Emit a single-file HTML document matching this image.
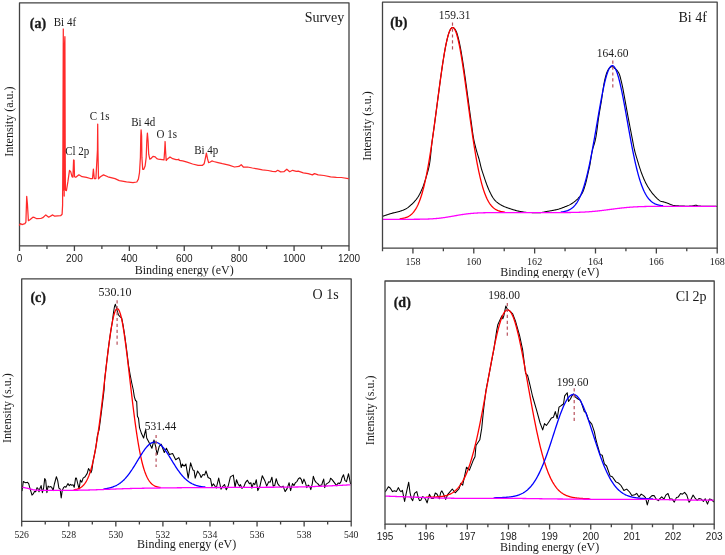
<!DOCTYPE html>
<html><head><meta charset="utf-8"><title>XPS spectra</title>
<style>html,body{margin:0;padding:0;background:#fff;}svg{display:block;will-change:transform;}</style></head>
<body><svg width="725" height="555" viewBox="0 0 725 555">
<rect width="725" height="555" fill="#fff"/>
<defs>
<clipPath id="cb"><rect x="382.5" y="2.2" width="334.70000000000005" height="245.9"/></clipPath>
<clipPath id="cc"><rect x="21.7" y="278.9" width="329.5" height="242.39999999999998"/></clipPath>
<clipPath id="cd"><rect x="385.0" y="281.0" width="329.20000000000005" height="243.10000000000002"/></clipPath>
</defs>
<rect x="19.5" y="2.8" width="329.5" height="243" fill="none" stroke="#424242" stroke-width="1.3" stroke-linejoin="round"/>
<path d="M19.5,245.8 V251.1 M74.42,245.8 V251.1 M129.33,245.8 V251.1 M184.25,245.8 V251.1 M239.17,245.8 V251.1 M294.08,245.8 V251.1 M349,245.8 V251.1 M46.96,245.8 V248.9 M101.88,245.8 V248.9 M156.79,245.8 V248.9 M211.71,245.8 V248.9 M266.62,245.8 V248.9 M321.54,245.8 V248.9 " stroke="#424242" stroke-width="1.3" fill="none"/>
<text x="19.5" y="261.8" font-family="Liberation Sans" font-size="10" font-weight="normal" text-anchor="middle" fill="#1a1a1a" >0</text>
<text x="74.42" y="261.8" font-family="Liberation Sans" font-size="10" font-weight="normal" text-anchor="middle" fill="#1a1a1a" >200</text>
<text x="129.33" y="261.8" font-family="Liberation Sans" font-size="10" font-weight="normal" text-anchor="middle" fill="#1a1a1a" >400</text>
<text x="184.25" y="261.8" font-family="Liberation Sans" font-size="10" font-weight="normal" text-anchor="middle" fill="#1a1a1a" >600</text>
<text x="239.17" y="261.8" font-family="Liberation Sans" font-size="10" font-weight="normal" text-anchor="middle" fill="#1a1a1a" >800</text>
<text x="294.08" y="261.8" font-family="Liberation Sans" font-size="10" font-weight="normal" text-anchor="middle" fill="#1a1a1a" >1000</text>
<text x="349" y="261.8" font-family="Liberation Sans" font-size="10" font-weight="normal" text-anchor="middle" fill="#1a1a1a" >1200</text>
<text x="184.2" y="274.2" font-family="Liberation Serif" font-size="12" font-weight="normal" text-anchor="middle" fill="#1a1a1a" >Binding energy (eV)</text>
<text transform="translate(13.2,121.6) rotate(-90)" x="0" y="0" font-family="Liberation Serif" font-size="12" text-anchor="middle" fill="#1a1a1a">Intensity (a.u.)</text>
<text x="29.8" y="27.5" font-family="Liberation Serif" font-size="14" font-weight="bold" text-anchor="start" fill="#1a1a1a" stroke="#1a1a1a" stroke-width="0.3">(a)</text>
<text x="344.3" y="21.9" font-family="Liberation Serif" font-size="14" font-weight="normal" text-anchor="end" fill="#1a1a1a" >Survey</text>
<path d="M19.5,225.1 L20.5,223.6 L21.9,224.6 L24.9,223.6 L25.9,222.2 L26.7,196.4 L27.4,203.8 L28.4,220.7 L29.9,219.7 L32.9,217.2 L34.8,217.7 L36.8,218.7 L40.8,218.5 L42.8,217.7 L45.8,214.9 L48.7,217.2 L52.7,214.9 L54.7,216.2 L60.6,215.7 L62.1,214.2 L62.6,205 L62.9,150 L63.3,29 L63.6,190 L63.9,80 L64.2,196 L64.5,45 L64.9,36.7 L65.2,150 L65.4,189.6 L65.8,190.5 L66.4,190.6 L67.9,181.7 L69.5,170.4 L70.7,171.6 L72,176.7 L72.9,177.2 L73.6,160 L74.1,160.3 L74.5,176.7 L75.8,177.3 L78.9,174.8 L82.1,176.7 L86.5,177.3 L90.3,178.5 L92.5,178.5 L93.4,169.1 L94.3,178.5 L95.9,178.5 L97.45,150 L97.7,124.1 L97.95,150 L98.5,178.8 L100.4,176.8 L103.5,174.9 L107.9,176.8 L113,178.1 L115,178.6 L119.3,180.6 L120.8,180.8 L126.5,181.8 L133,182.6 L136.8,182 L138.4,179.1 L139.5,172.6 L140.4,157.4 L140.8,135.8 L141.1,129.9 L141.6,135.8 L141.9,157.4 L142.7,169.3 L143.8,169.3 L145.1,166.1 L146.2,157.4 L146.8,141.2 L147.4,133.1 L148.1,141.2 L148.7,154.2 L149.8,159.1 L150.8,158.7 L153,156.4 L155.2,156.9 L156.8,158.7 L158.3,159.1 L164,159.8 L164.7,150 L165.1,141.5 L165.5,150 L166.2,160.5 L167.2,159.2 L170,157 L172.7,158.7 L176,159.6 L178.2,159.6 L178.8,159.2 L179.3,160.4 L182.7,160.9 L187.1,162.2 L192.6,164 L198.1,165.3 L202.5,165.3 L204.2,163.7 L205.3,158.7 L206.4,153.2 L207.5,158.7 L208.6,162.6 L210.3,162 L211.9,160.9 L213.6,161.5 L218,162.6 L222.4,163.7 L229,165.1 L234.5,167 L239,166.4 L241.2,164.7 L243.3,167 L247.5,167 L252.4,168 L257.4,168.9 L262.4,169.9 L268.1,170.5 L272.3,171.4 L275.6,171.7 L277.7,170.3 L280.6,171.9 L283.9,171.7 L286.8,169.2 L289.7,171.7 L292.6,170.3 L296.3,171.4 L298.3,171.1 L303.3,172.8 L308.2,173.6 L312.4,174.9 L314.5,173.6 L318.2,174.9 L324,175.5 L330.6,176.9 L336.4,177.4 L341.4,177.5 L348.3,178.6" fill="none" stroke="#ff2a2a" stroke-width="1.25" stroke-linejoin="round" stroke-linecap="round" />
<text transform="translate(53.8,26) scale(1,1.12)" x="0" y="0" font-family="Liberation Serif" font-size="11" font-weight="normal" text-anchor="start" fill="#1a1a1a" >Bi 4f</text>
<text transform="translate(89.7,120.3) scale(1,1.12)" x="0" y="0" font-family="Liberation Serif" font-size="11" font-weight="normal" text-anchor="start" fill="#1a1a1a" >C 1s</text>
<text transform="translate(65.2,154.9) scale(1,1.12)" x="0" y="0" font-family="Liberation Serif" font-size="11" font-weight="normal" text-anchor="start" fill="#1a1a1a" >Cl 2p</text>
<text transform="translate(131.2,126.1) scale(1,1.12)" x="0" y="0" font-family="Liberation Serif" font-size="11" font-weight="normal" text-anchor="start" fill="#1a1a1a" >Bi 4d</text>
<text transform="translate(156.5,137.7) scale(1,1.12)" x="0" y="0" font-family="Liberation Serif" font-size="11" font-weight="normal" text-anchor="start" fill="#1a1a1a" >O 1s</text>
<text transform="translate(194.2,153.7) scale(1,1.12)" x="0" y="0" font-family="Liberation Serif" font-size="11" font-weight="normal" text-anchor="start" fill="#1a1a1a" >Bi 4p</text>
<g clip-path="url(#cb)">
<path d="M383,216.2 L383.5,216.02 L384,215.84 L384.5,215.66 L385,215.49 L385.5,215.31 L386,215.14 L386.5,214.98 L387,214.81 L387.5,214.64 L388,214.48 L388.5,214.32 L389,214.17 L389.5,214.01 L390,213.86 L390.5,213.71 L391,213.56 L391.5,213.41 L392,213.27 L392.5,213.13 L393,213 L393.5,212.88 L394,212.76 L394.5,212.64 L395,212.52 L395.5,212.41 L396,212.29 L396.5,212.18 L397,212.06 L397.5,211.94 L398,211.81 L398.5,211.68 L399,211.54 L399.5,211.39 L400,211.24 L400.5,211.08 L401,210.91 L401.5,210.74 L402,210.56 L402.5,210.38 L403,210.18 L403.5,209.98 L404,209.77 L404.5,209.54 L405,209.31 L405.5,209.06 L406,208.79 L406.5,208.5 L407,208.18 L407.5,207.84 L408,207.48 L408.5,207.09 L409,206.69 L409.5,206.27 L410,205.84 L410.5,205.4 L411,204.95 L411.5,204.49 L412,204.02 L412.5,203.54 L413,203.05 L413.5,202.54 L414,202.02 L414.5,201.48 L415,200.91 L415.5,200.32 L416,199.71 L416.5,199.07 L417,198.39 L417.5,197.69 L418,196.95 L418.5,196.15 L419,195.3 L419.5,194.4 L420,193.44 L420.5,192.44 L421,191.39 L421.5,190.3 L422,189.16 L422.5,187.98 L423,186.75 L423.5,185.43 L424,184.02 L424.5,182.52 L425,180.96 L425.5,179.33 L426,177.66 L426.5,175.95 L427,174.24 L427.5,172.55 L428,170.8 L428.5,168.89 L429,166.74 L429.5,164.25 L430,161 L430.5,156.61 L431,151.61 L431.5,146.58 L432,142.09 L432.5,138.53 L433,135.02 L433.5,131.44 L434,127.81 L434.5,124.13 L435,120.41 L435.5,116.66 L436,112.88 L436.5,109.08 L437,105.27 L437.5,101.45 L438,97.64 L438.5,93.84 L439,90.06 L439.5,86.3 L440,82.59 L440.5,78.93 L441,75.32 L441.5,71.78 L442,68.32 L442.5,64.94 L443,61.65 L443.5,58.47 L444,55.4 L444.5,52.45 L445,49.63 L445.5,46.95 L446,44.42 L446.5,42.04 L447,39.82 L447.5,37.76 L448,35.88 L448.5,34.18 L449,32.66 L449.5,31.34 L450,30.2 L450.5,29.26 L451,28.52 L451.5,27.99 L452,27.65 L452.5,27.54 L453,27.59 L453.5,27.78 L454,28.12 L454.5,28.59 L455,29.21 L455.5,29.97 L456,30.88 L456.5,32.03 L457,33.44 L457.5,35.04 L458,36.82 L458.5,38.78 L459,40.9 L459.5,43.18 L460,45.61 L460.5,48.19 L461,50.91 L461.5,53.75 L462,56.72 L462.5,59.79 L463,62.97 L463.5,66.25 L464,69.6 L464.5,73.04 L465,76.54 L465.5,80.09 L466,83.7 L466.5,87.34 L467,91.01 L467.5,94.71 L468,98.41 L468.5,102.12 L469,105.83 L469.5,109.52 L470,113.2 L470.5,116.84 L471,120.46 L471.5,124.11 L472,127.88 L472.5,131.58 L473,135.02 L473.5,138 L474,140.54 L474.5,142.85 L475,144.97 L475.5,146.96 L476,148.87 L476.5,150.74 L477,152.47 L477.5,154.09 L478,155.67 L478.5,157.28 L479,158.98 L479.5,160.85 L480,162.91 L480.5,165.05 L481,167.12 L481.5,169 L482,170.66 L482.5,172.2 L483,173.67 L483.5,175.12 L484,176.59 L484.5,178.09 L485,179.59 L485.5,181.07 L486,182.52 L486.5,183.92 L487,185.24 L487.5,186.51 L488,187.74 L488.5,188.94 L489,190.11 L489.5,191.23 L490,192.31 L490.5,193.34 L491,194.31 L491.5,195.24 L492,196.14 L492.5,196.99 L493,197.8 L493.5,198.54 L494,199.2 L494.5,199.8 L495,200.36 L495.5,200.87 L496,201.36 L496.5,201.8 L497,202.22 L497.5,202.61 L498,202.99 L498.5,203.35 L499,203.7 L499.5,204.03 L500,204.35 L500.5,204.66 L501,204.95 L501.5,205.23 L502,205.5 L502.5,205.76 L503,206 L503.5,206.23 L504,206.46 L504.5,206.67 L505,206.88 L505.5,207.09 L506,207.28 L506.5,207.47 L507,207.66 L507.5,207.84 L508,208.01 L508.5,208.18 L509,208.35 L509.5,208.52 L510,208.68 L510.5,208.84 L511,209 L511.5,209.16 L512,209.32 L512.5,209.48 L513,209.64 L513.5,209.79 L514,209.95 L514.5,210.1 L515,210.24 L515.5,210.38 L516,210.52 L516.5,210.66 L517,210.78 L517.5,210.9 L518,211.02 L518.5,211.12 L519,211.22 L519.5,211.31 L520,211.41 L520.5,211.51 L521,211.6 L521.5,211.69 L522,211.78 L522.5,211.87 L523,211.96 L523.5,212.04 L524,212.11 L524.5,212.18 L525,212.25 L525.5,212.31 L526,212.36 L526.5,212.41 L527,212.45 L527.5,212.48 L528,212.5 L528.5,212.52 L529,212.53 L529.5,212.55 L530,212.56 L530.5,212.58 L531,212.59 L531.5,212.6 L532,212.61 L532.5,212.62 L533,212.64 L533.5,212.65 L534,212.65 L534.5,212.66 L535,212.67 L535.5,212.68 L536,212.68 L536.5,212.69 L537,212.69 L537.5,212.7 L538,212.7 L538.5,212.7 L539,212.7 L539.5,212.69 L540,212.67 L540.5,212.62 L541,212.57 L541.5,212.5 L542,212.43 L542.5,212.34 L543,212.25 L543.5,212.15 L544,212.05 L544.5,211.94 L545,211.84 L545.5,211.73 L546,211.63 L546.5,211.53 L547,211.44 L547.5,211.35 L548,211.26 L548.5,211.17 L549,211.09 L549.5,211 L550,210.91 L550.5,210.83 L551,210.74 L551.5,210.65 L552,210.56 L552.5,210.47 L553,210.37 L553.5,210.28 L554,210.18 L554.5,210.08 L555,209.97 L555.5,209.87 L556,209.76 L556.5,209.64 L557,209.52 L557.5,209.4 L558,209.28 L558.5,209.15 L559,209.01 L559.5,208.85 L560,208.69 L560.5,208.52 L561,208.35 L561.5,208.16 L562,207.97 L562.5,207.78 L563,207.59 L563.5,207.39 L564,207.19 L564.5,207 L565,206.8 L565.5,206.61 L566,206.41 L566.5,206.22 L567,206.02 L567.5,205.82 L568,205.6 L568.5,205.38 L569,205.15 L569.5,204.9 L570,204.64 L570.5,204.36 L571,204.07 L571.5,203.76 L572,203.44 L572.5,203.11 L573,202.77 L573.5,202.42 L574,202.05 L574.5,201.67 L575,201.28 L575.5,200.87 L576,200.43 L576.5,199.98 L577,199.51 L577.5,199.02 L578,198.5 L578.5,197.97 L579,197.42 L579.5,196.86 L580,196.26 L580.5,195.63 L581,194.94 L581.5,194.2 L582,193.39 L582.5,192.5 L583,191.46 L583.5,190.23 L584,188.84 L584.5,187.31 L585,185.69 L585.5,184 L586,182.15 L586.5,180.07 L587,177.85 L587.5,175.57 L588,173.31 L588.5,171.16 L589,169.12 L589.5,166.96 L590,164.38 L590.5,161.27 L591,157.93 L591.5,154.72 L592,152 L592.5,149.83 L593,147.97 L593.5,146.31 L594,144.72 L594.5,143.08 L595,141.29 L595.5,139.22 L596,136.73 L596.5,133.53 L597,129.81 L597.5,125.84 L598,121.9 L598.5,118.27 L599,115.06 L599.5,112.03 L600,109.12 L600.5,106.24 L601,103.32 L601.5,100.3 L602,97.02 L602.5,93.52 L603,89.99 L603.5,86.63 L604,83.62 L604.5,81.15 L605,78.98 L605.5,76.96 L606,75.13 L606.5,73.53 L607,72.17 L607.5,71.09 L608,70.13 L608.5,69.26 L609,68.52 L609.5,67.92 L610,67.5 L610.5,67.18 L611,66.89 L611.5,66.66 L612,66.52 L612.5,66.52 L613,66.71 L613.5,67.07 L614,67.52 L614.5,68.02 L615,68.5 L615.5,68.95 L616,69.41 L616.5,69.9 L617,70.43 L617.5,71.03 L618,71.71 L618.5,72.48 L619,73.4 L619.5,74.66 L620,76.26 L620.5,78.1 L621,80.1 L621.5,82.17 L622,84.29 L622.5,86.63 L623,89.17 L623.5,91.85 L624,94.62 L624.5,97.41 L625,100.18 L625.5,102.87 L626,105.59 L626.5,108.33 L627,111.08 L627.5,113.82 L628,116.53 L628.5,119.19 L629,121.82 L629.5,124.43 L630,127.02 L630.5,129.6 L631,132.16 L631.5,134.73 L632,137.29 L632.5,139.89 L633,142.58 L633.5,145.23 L634,147.74 L634.5,150 L635,152.01 L635.5,153.88 L636,155.63 L636.5,157.31 L637,158.96 L637.5,160.6 L638,162.26 L638.5,163.9 L639,165.53 L639.5,167.13 L640,168.69 L640.5,170.19 L641,171.63 L641.5,173 L642,174.31 L642.5,175.58 L643,176.82 L643.5,178.03 L644,179.19 L644.5,180.31 L645,181.39 L645.5,182.43 L646,183.42 L646.5,184.36 L647,185.27 L647.5,186.14 L648,186.99 L648.5,187.8 L649,188.59 L649.5,189.35 L650,190.09 L650.5,190.81 L651,191.5 L651.5,192.17 L652,192.82 L652.5,193.44 L653,194.04 L653.5,194.63 L654,195.2 L654.5,195.75 L655,196.3 L655.5,196.84 L656,197.36 L656.5,197.87 L657,198.36 L657.5,198.82 L658,199.27 L658.5,199.73 L659,200.17 L659.5,200.58 L660,200.91 L660.5,201.14 L661,201.3 L661.5,201.44 L662,201.55 L662.5,201.66 L663,201.76 L663.5,201.87 L664,202 L664.5,202.15 L665,202.3 L665.5,202.46 L666,202.63 L666.5,202.8 L667,202.98 L667.5,203.16 L668,203.36 L668.5,203.58 L669,203.81 L669.5,204.05 L670,204.27 L670.5,204.48 L671,204.67 L671.5,204.83 L672,204.98 L672.5,205.13 L673,205.27 L673.5,205.39 L674,205.5 L674.5,205.58 L675,205.63 L675.5,205.68 L676,205.72 L676.5,205.76 L677,205.8 L677.5,205.83 L678,205.86 L678.5,205.89 L679,205.91 L679.5,205.94 L680,205.96 L680.5,205.98 L681,206 L681.5,206.02 L682,206.04 L682.5,206.06 L683,206.08 L683.5,206.1 L684,206.12 L684.5,206.13 L685,206.15 L685.5,206.16 L686,206.18 L686.5,206.19 L687,206.19 L687.5,206.2 L688,206.2 L688.5,206.19 L689,206.17 L689.5,206.14 L690,206.1 L690.5,206.05 L691,206 L691.5,205.95 L692,205.9 L692.5,205.83 L693,205.74 L693.5,205.64 L694,205.53 L694.5,205.43 L695,205.36 L695.5,205.31 L696,205.31 L696.5,205.38 L697,205.5 L697.5,205.65 L698,205.8 L698.5,205.92 L699,206 L699.5,206.04 L700,206.08 L700.5,206.12 L701,206.16 L701.5,206.19 L702,206.22 L702.5,206.24 L703,206.26 L703.5,206.28 L704,206.29 L704.5,206.3 L705,206.3 L705.5,206.3 L706,206.3 L706.5,206.3 L707,206.3 L707.5,206.3 L708,206.3 L708.5,206.3 L709,206.3 L709.5,206.29 L710,206.29 L710.5,206.29 L711,206.29 L711.5,206.28 L712,206.28 L712.5,206.27 L713,206.27 L713.5,206.26 L714,206.25 L714.5,206.25 L715,206.24 L715.5,206.23 L716,206.21 L716.5,206.2" fill="none" stroke="#000000" stroke-width="1.05" stroke-linejoin="round" stroke-linecap="round" />
<path d="M400.1,218.79 L400.6,218.73 L401.1,218.67 L401.6,218.59 L402.1,218.51 L402.6,218.42 L403.1,218.32 L403.6,218.21 L404.1,218.09 L404.6,217.96 L405.1,217.81 L405.6,217.65 L406.1,217.48 L406.6,217.28 L407.1,217.07 L407.6,216.85 L408.1,216.6 L408.6,216.33 L409.1,216.03 L409.6,215.71 L410.1,215.37 L410.6,214.99 L411.1,214.58 L411.6,214.14 L412.1,213.67 L412.6,213.16 L413.1,212.61 L413.6,212.02 L414.1,211.38 L414.6,210.7 L415.1,209.97 L415.6,209.19 L416.1,208.36 L416.6,207.47 L417.1,206.52 L417.6,205.51 L418.1,204.44 L418.6,203.3 L419.1,202.1 L419.6,200.82 L420.1,199.47 L420.6,198.04 L421.1,196.53 L421.6,194.95 L422.1,193.28 L422.6,191.53 L423.1,189.69 L423.6,187.76 L424.1,185.75 L424.6,183.64 L425.1,181.45 L425.6,179.16 L426.1,176.78 L426.6,174.31 L427.1,171.74 L427.6,169.09 L428.1,166.34 L428.6,163.51 L429.1,160.58 L429.6,157.57 L430.1,154.47 L430.6,151.3 L431.1,148.04 L431.6,144.71 L432.1,141.31 L432.6,137.84 L433.1,134.31 L433.6,130.72 L434.1,127.08 L434.6,123.39 L435.1,119.67 L435.6,115.91 L436.1,112.12 L436.6,108.32 L437.1,104.5 L437.6,100.69 L438.1,96.88 L438.6,93.08 L439.1,89.3 L439.6,85.56 L440.1,81.86 L440.6,78.2 L441.1,74.61 L441.6,71.08 L442.1,67.63 L442.6,64.27 L443.1,61.01 L443.6,57.85 L444.1,54.8 L444.6,51.88 L445.1,49.09 L445.6,46.44 L446.1,43.93 L446.6,41.58 L447.1,39.39 L447.6,37.37 L448.1,35.53 L448.6,33.86 L449.1,32.38 L449.6,31.09 L450.1,30 L450.6,29.1 L451.1,28.4 L451.6,27.91 L452.1,27.61 L452.6,27.52 L453.1,27.64 L453.6,27.96 L454.1,28.48 L454.6,29.2 L455.1,30.13 L455.6,31.24 L456.1,32.55 L456.6,34.04 L457.1,35.72 L457.6,37.57 L458.1,39.59 L458.6,41.78 L459.1,44.12 L459.6,46.61 L460.1,49.25 L460.6,52.02 L461.1,54.91 L461.6,57.93 L462.1,61.04 L462.6,64.26 L463.1,67.57 L463.6,70.96 L464.1,74.43 L464.6,77.95 L465.1,81.53 L465.6,85.15 L466.1,88.81 L466.6,92.49 L467.1,96.19 L467.6,99.9 L468.1,103.61 L468.6,107.31 L469.1,111 L469.6,114.66 L470.1,118.3 L470.6,121.9 L471.1,125.45 L471.6,128.96 L472.1,132.42 L472.6,135.81 L473.1,139.14 L473.6,142.41 L474.1,145.6 L474.6,148.71 L475.1,151.75 L475.6,154.71 L476.1,157.58 L476.6,160.37 L477.1,163.07 L477.6,165.68 L478.1,168.2 L478.6,170.63 L479.1,172.97 L479.6,175.22 L480.1,177.38 L480.6,179.46 L481.1,181.44 L481.6,183.34 L482.1,185.15 L482.6,186.88 L483.1,188.52 L483.6,190.09 L484.1,191.57 L484.6,192.98 L485.1,194.32 L485.6,195.58 L486.1,196.77 L486.6,197.9 L487.1,198.96 L487.6,199.95 L488.1,200.89 L488.6,201.77 L489.1,202.59 L489.6,203.36 L490.1,204.09 L490.6,204.76 L491.1,205.39 L491.6,205.97 L492.1,206.52 L492.6,207.02 L493.1,207.49 L493.6,207.93 L494.1,208.33 L494.6,208.7 L495.1,209.04 L495.6,209.36 L496.1,209.65 L496.6,209.92 L497.1,210.17 L497.6,210.39 L498.1,210.6 L498.6,210.79 L499.1,210.96 L499.6,211.12 L500.1,211.27 L500.6,211.4 L501.1,211.52 L501.6,211.63 L502.1,211.73 L502.6,211.82 L503.1,211.9 L503.6,211.97 L504.1,212.04 L504.6,212.1" fill="none" stroke="#ff0000" stroke-width="1.3" stroke-linejoin="round" stroke-linecap="round" />
<path d="M561.1,212.06 L561.6,212 L562.1,211.94 L562.6,211.86 L563.1,211.78 L563.6,211.69 L564.1,211.59 L564.6,211.48 L565.1,211.36 L565.6,211.23 L566.1,211.09 L566.6,210.93 L567.1,210.76 L567.6,210.58 L568.1,210.37 L568.6,210.15 L569.1,209.92 L569.6,209.66 L570.1,209.38 L570.6,209.07 L571.1,208.75 L571.6,208.39 L572.1,208.01 L572.6,207.6 L573.1,207.16 L573.6,206.69 L574.1,206.18 L574.6,205.63 L575.1,205.05 L575.6,204.43 L576.1,203.76 L576.6,203.05 L577.1,202.29 L577.6,201.49 L578.1,200.64 L578.6,199.73 L579.1,198.77 L579.6,197.76 L580.1,196.69 L580.6,195.56 L581.1,194.36 L581.6,193.11 L582.1,191.79 L582.6,190.41 L583.1,188.96 L583.6,187.44 L584.1,185.86 L584.6,184.2 L585.1,182.47 L585.6,180.68 L586.1,178.81 L586.6,176.87 L587.1,174.87 L587.6,172.79 L588.1,170.64 L588.6,168.43 L589.1,166.14 L589.6,163.8 L590.1,161.39 L590.6,158.91 L591.1,156.38 L591.6,153.8 L592.1,151.16 L592.6,148.47 L593.1,145.74 L593.6,142.96 L594.1,140.15 L594.6,137.31 L595.1,134.44 L595.6,131.54 L596.1,128.63 L596.6,125.71 L597.1,122.79 L597.6,119.87 L598.1,116.95 L598.6,114.05 L599.1,111.18 L599.6,108.33 L600.1,105.51 L600.6,102.74 L601.1,100.02 L601.6,97.36 L602.1,94.75 L602.6,92.22 L603.1,89.77 L603.6,87.41 L604.1,85.13 L604.6,82.96 L605.1,80.88 L605.6,78.92 L606.1,77.08 L606.6,75.36 L607.1,73.76 L607.6,72.3 L608.1,70.97 L608.6,69.79 L609.1,68.75 L609.6,67.85 L610.1,67.11 L610.6,66.52 L611.1,66.08 L611.6,65.8 L612.1,65.67 L612.6,65.71 L613.1,65.89 L613.6,66.24 L614.1,66.73 L614.6,67.38 L615.1,68.18 L615.6,69.13 L616.1,70.22 L616.6,71.45 L617.1,72.82 L617.6,74.32 L618.1,75.94 L618.6,77.69 L619.1,79.56 L619.6,81.53 L620.1,83.61 L620.6,85.79 L621.1,88.06 L621.6,90.41 L622.1,92.84 L622.6,95.35 L623.1,97.91 L623.6,100.54 L624.1,103.21 L624.6,105.93 L625.1,108.68 L625.6,111.46 L626.1,114.26 L626.6,117.08 L627.1,119.91 L627.6,122.73 L628.1,125.56 L628.6,128.37 L629.1,131.17 L629.6,133.95 L630.1,136.7 L630.6,139.42 L631.1,142.1 L631.6,144.75 L632.1,147.35 L632.6,149.9 L633.1,152.4 L633.6,154.85 L634.1,157.23 L634.6,159.56 L635.1,161.83 L635.6,164.03 L636.1,166.17 L636.6,168.24 L637.1,170.25 L637.6,172.19 L638.1,174.05 L638.6,175.85 L639.1,177.58 L639.6,179.24 L640.1,180.84 L640.6,182.36 L641.1,183.82 L641.6,185.22 L642.1,186.54 L642.6,187.81 L643.1,189.01 L643.6,190.15 L644.1,191.24 L644.6,192.26 L645.1,193.24 L645.6,194.15 L646.1,195.02 L646.6,195.83 L647.1,196.6 L647.6,197.32 L648.1,198 L648.6,198.63 L649.1,199.22 L649.6,199.78 L650.1,200.29 L650.6,200.78 L651.1,201.23 L651.6,201.64 L652.1,202.03 L652.6,202.39 L653.1,202.73 L653.6,203.04 L654.1,203.32 L654.6,203.59 L655.1,203.83 L655.6,204.05 L656.1,204.26 L656.6,204.45 L657.1,204.62 L657.6,204.78 L658.1,204.92 L658.6,205.06 L659.1,205.18 L659.6,205.29 L660.1,205.39 L660.6,205.48 L661.1,205.56 L661.6,205.64 L662.1,205.71 L662.6,205.77" fill="none" stroke="#0000ff" stroke-width="1.3" stroke-linejoin="round" stroke-linecap="round" />
<path d="M383.1,219.3 L383.6,219.3 L384.1,219.3 L384.6,219.3 L385.1,219.3 L385.6,219.3 L386.1,219.3 L386.6,219.3 L387.1,219.3 L387.6,219.3 L388.1,219.3 L388.6,219.3 L389.1,219.3 L389.6,219.3 L390.1,219.3 L390.6,219.3 L391.1,219.3 L391.6,219.3 L392.1,219.3 L392.6,219.3 L393.1,219.3 L393.6,219.3 L394.1,219.3 L394.6,219.3 L395.1,219.3 L395.6,219.3 L396.1,219.3 L396.6,219.3 L397.1,219.3 L397.6,219.3 L398.1,219.3 L398.6,219.3 L399.1,219.3 L399.6,219.3 L400.1,219.3 L400.6,219.3 L401.1,219.3 L401.6,219.3 L402.1,219.3 L402.6,219.3 L403.1,219.3 L403.6,219.3 L404.1,219.3 L404.6,219.3 L405.1,219.3 L405.6,219.3 L406.1,219.3 L406.6,219.29 L407.1,219.29 L407.6,219.29 L408.1,219.29 L408.6,219.29 L409.1,219.29 L409.6,219.29 L410.1,219.29 L410.6,219.29 L411.1,219.29 L411.6,219.28 L412.1,219.28 L412.6,219.28 L413.1,219.28 L413.6,219.28 L414.1,219.27 L414.6,219.27 L415.1,219.27 L415.6,219.26 L416.1,219.26 L416.6,219.26 L417.1,219.25 L417.6,219.25 L418.1,219.24 L418.6,219.24 L419.1,219.23 L419.6,219.23 L420.1,219.22 L420.6,219.21 L421.1,219.21 L421.6,219.2 L422.1,219.19 L422.6,219.18 L423.1,219.17 L423.6,219.16 L424.1,219.15 L424.6,219.13 L425.1,219.12 L425.6,219.1 L426.1,219.09 L426.6,219.07 L427.1,219.06 L427.6,219.04 L428.1,219.02 L428.6,219 L429.1,218.98 L429.6,218.95 L430.1,218.93 L430.6,218.9 L431.1,218.88 L431.6,218.85 L432.1,218.82 L432.6,218.79 L433.1,218.75 L433.6,218.72 L434.1,218.68 L434.6,218.64 L435.1,218.6 L435.6,218.56 L436.1,218.52 L436.6,218.48 L437.1,218.43 L437.6,218.38 L438.1,218.33 L438.6,218.28 L439.1,218.23 L439.6,218.17 L440.1,218.11 L440.6,218.05 L441.1,217.99 L441.6,217.93 L442.1,217.87 L442.6,217.8 L443.1,217.73 L443.6,217.66 L444.1,217.59 L444.6,217.52 L445.1,217.45 L445.6,217.37 L446.1,217.3 L446.6,217.22 L447.1,217.14 L447.6,217.06 L448.1,216.97 L448.6,216.89 L449.1,216.81 L449.6,216.72 L450.1,216.64 L450.6,216.55 L451.1,216.46 L451.6,216.38 L452.1,216.29 L452.6,216.2 L453.1,216.11 L453.6,216.02 L454.1,215.93 L454.6,215.84 L455.1,215.75 L455.6,215.67 L456.1,215.58 L456.6,215.49 L457.1,215.4 L457.6,215.31 L458.1,215.23 L458.6,215.14 L459.1,215.06 L459.6,214.97 L460.1,214.89 L460.6,214.81 L461.1,214.73 L461.6,214.65 L462.1,214.57 L462.6,214.5 L463.1,214.42 L463.6,214.35 L464.1,214.28 L464.6,214.21 L465.1,214.14 L465.6,214.07 L466.1,214.01 L466.6,213.94 L467.1,213.88 L467.6,213.82 L468.1,213.76 L468.6,213.71 L469.1,213.65 L469.6,213.6 L470.1,213.55 L470.6,213.5 L471.1,213.45 L471.6,213.41 L472.1,213.36 L472.6,213.32 L473.1,213.28 L473.6,213.24 L474.1,213.2 L474.6,213.17 L475.1,213.13 L475.6,213.1 L476.1,213.07 L476.6,213.04 L477.1,213.01 L477.6,212.99 L478.1,212.96 L478.6,212.94 L479.1,212.92 L479.6,212.89 L480.1,212.87 L480.6,212.86 L481.1,212.84 L481.6,212.82 L482.1,212.8 L482.6,212.79 L483.1,212.78 L483.6,212.76 L484.1,212.75 L484.6,212.74 L485.1,212.73 L485.6,212.72 L486.1,212.71 L486.6,212.7 L487.1,212.69 L487.6,212.68 L488.1,212.68 L488.6,212.67 L489.1,212.66 L489.6,212.66 L490.1,212.65 L490.6,212.65 L491.1,212.64 L491.6,212.64 L492.1,212.64 L492.6,212.63 L493.1,212.63 L493.6,212.63 L494.1,212.63 L494.6,212.62 L495.1,212.62 L495.6,212.62 L496.1,212.62 L496.6,212.62 L497.1,212.61 L497.6,212.61 L498.1,212.61 L498.6,212.61 L499.1,212.61 L499.6,212.61 L500.1,212.61 L500.6,212.61 L501.1,212.61 L501.6,212.61 L502.1,212.6 L502.6,212.6 L503.1,212.6 L503.6,212.6 L504.1,212.6 L504.6,212.6 L505.1,212.6 L505.6,212.6 L506.1,212.6 L506.6,212.6 L507.1,212.6 L507.6,212.6 L508.1,212.6 L508.6,212.6 L509.1,212.6 L509.6,212.6 L510.1,212.6 L510.6,212.6 L511.1,212.6 L511.6,212.6 L512.1,212.6 L512.6,212.6 L513.1,212.6 L513.6,212.6 L514.1,212.6 L514.6,212.6 L515.1,212.6 L515.6,212.6 L516.1,212.6 L516.6,212.6 L517.1,212.6 L517.6,212.6 L518.1,212.6 L518.6,212.6 L519.1,212.6 L519.6,212.6 L520.1,212.6 L520.6,212.6 L521.1,212.6 L521.6,212.6 L522.1,212.6 L522.6,212.6 L523.1,212.6 L523.6,212.6 L524.1,212.6 L524.6,212.6 L525.1,212.6 L525.6,212.6 L526.1,212.6 L526.6,212.6 L527.1,212.6 L527.6,212.6 L528.1,212.6 L528.6,212.6 L529.1,212.6 L529.6,212.6 L530.1,212.6 L530.6,212.6 L531.1,212.6 L531.6,212.6 L532.1,212.6 L532.6,212.6 L533.1,212.6 L533.6,212.6 L534.1,212.6 L534.6,212.6 L535.1,212.6 L535.6,212.6 L536.1,212.6 L536.6,212.6 L537.1,212.6 L537.6,212.6 L538.1,212.6 L538.6,212.6 L539.1,212.6 L539.6,212.6 L540.1,212.6 L540.6,212.6 L541.1,212.6 L541.6,212.6 L542.1,212.6 L542.6,212.6 L543.1,212.6 L543.6,212.6 L544.1,212.6 L544.6,212.6 L545.1,212.6 L545.6,212.6 L546.1,212.6 L546.6,212.6 L547.1,212.6 L547.6,212.6 L548.1,212.6 L548.6,212.6 L549.1,212.6 L549.6,212.6 L550.1,212.59 L550.6,212.59 L551.1,212.59 L551.6,212.59 L552.1,212.59 L552.6,212.59 L553.1,212.59 L553.6,212.59 L554.1,212.59 L554.6,212.59 L555.1,212.59 L555.6,212.59 L556.1,212.59 L556.6,212.58 L557.1,212.58 L557.6,212.58 L558.1,212.58 L558.6,212.58 L559.1,212.58 L559.6,212.57 L560.1,212.57 L560.6,212.57 L561.1,212.57 L561.6,212.57 L562.1,212.56 L562.6,212.56 L563.1,212.56 L563.6,212.55 L564.1,212.55 L564.6,212.55 L565.1,212.54 L565.6,212.54 L566.1,212.53 L566.6,212.53 L567.1,212.52 L567.6,212.52 L568.1,212.51 L568.6,212.51 L569.1,212.5 L569.6,212.49 L570.1,212.49 L570.6,212.48 L571.1,212.47 L571.6,212.46 L572.1,212.45 L572.6,212.45 L573.1,212.44 L573.6,212.43 L574.1,212.41 L574.6,212.4 L575.1,212.39 L575.6,212.38 L576.1,212.37 L576.6,212.35 L577.1,212.34 L577.6,212.32 L578.1,212.31 L578.6,212.29 L579.1,212.27 L579.6,212.25 L580.1,212.24 L580.6,212.22 L581.1,212.2 L581.6,212.17 L582.1,212.15 L582.6,212.13 L583.1,212.11 L583.6,212.08 L584.1,212.06 L584.6,212.03 L585.1,212 L585.6,211.97 L586.1,211.94 L586.6,211.91 L587.1,211.88 L587.6,211.85 L588.1,211.82 L588.6,211.78 L589.1,211.75 L589.6,211.71 L590.1,211.67 L590.6,211.63 L591.1,211.59 L591.6,211.55 L592.1,211.51 L592.6,211.47 L593.1,211.42 L593.6,211.38 L594.1,211.33 L594.6,211.28 L595.1,211.24 L595.6,211.19 L596.1,211.14 L596.6,211.09 L597.1,211.03 L597.6,210.98 L598.1,210.93 L598.6,210.87 L599.1,210.82 L599.6,210.76 L600.1,210.7 L600.6,210.64 L601.1,210.59 L601.6,210.53 L602.1,210.47 L602.6,210.4 L603.1,210.34 L603.6,210.28 L604.1,210.22 L604.6,210.15 L605.1,210.09 L605.6,210.03 L606.1,209.96 L606.6,209.9 L607.1,209.83 L607.6,209.77 L608.1,209.7 L608.6,209.64 L609.1,209.57 L609.6,209.5 L610.1,209.44 L610.6,209.37 L611.1,209.3 L611.6,209.24 L612.1,209.17 L612.6,209.11 L613.1,209.04 L613.6,208.98 L614.1,208.91 L614.6,208.85 L615.1,208.78 L615.6,208.72 L616.1,208.66 L616.6,208.59 L617.1,208.53 L617.6,208.47 L618.1,208.41 L618.6,208.35 L619.1,208.29 L619.6,208.23 L620.1,208.17 L620.6,208.12 L621.1,208.06 L621.6,208.01 L622.1,207.95 L622.6,207.9 L623.1,207.85 L623.6,207.79 L624.1,207.74 L624.6,207.69 L625.1,207.64 L625.6,207.6 L626.1,207.55 L626.6,207.5 L627.1,207.46 L627.6,207.42 L628.1,207.37 L628.6,207.33 L629.1,207.29 L629.6,207.25 L630.1,207.21 L630.6,207.18 L631.1,207.14 L631.6,207.11 L632.1,207.07 L632.6,207.04 L633.1,207.01 L633.6,206.97 L634.1,206.94 L634.6,206.92 L635.1,206.89 L635.6,206.86 L636.1,206.83 L636.6,206.81 L637.1,206.78 L637.6,206.76 L638.1,206.74 L638.6,206.72 L639.1,206.7 L639.6,206.68 L640.1,206.66 L640.6,206.64 L641.1,206.62 L641.6,206.6 L642.1,206.59 L642.6,206.57 L643.1,206.56 L643.6,206.54 L644.1,206.53 L644.6,206.52 L645.1,206.5 L645.6,206.49 L646.1,206.48 L646.6,206.47 L647.1,206.46 L647.6,206.45 L648.1,206.44 L648.6,206.43 L649.1,206.42 L649.6,206.42 L650.1,206.41 L650.6,206.4 L651.1,206.4 L651.6,206.39 L652.1,206.38 L652.6,206.38 L653.1,206.37 L653.6,206.37 L654.1,206.36 L654.6,206.36 L655.1,206.36 L655.6,206.35 L656.1,206.35 L656.6,206.34 L657.1,206.34 L657.6,206.34 L658.1,206.34 L658.6,206.33 L659.1,206.33 L659.6,206.33 L660.1,206.33 L660.6,206.32 L661.1,206.32 L661.6,206.32 L662.1,206.32 L662.6,206.32 L663.1,206.32 L663.6,206.32 L664.1,206.31 L664.6,206.31 L665.1,206.31 L665.6,206.31 L666.1,206.31 L666.6,206.31 L667.1,206.31 L667.6,206.31 L668.1,206.31 L668.6,206.31 L669.1,206.31 L669.6,206.31 L670.1,206.3 L670.6,206.3 L671.1,206.3 L671.6,206.3 L672.1,206.3 L672.6,206.3 L673.1,206.3 L673.6,206.3 L674.1,206.3 L674.6,206.3 L675.1,206.3 L675.6,206.3 L676.1,206.3 L676.6,206.3 L677.1,206.3 L677.6,206.3 L678.1,206.3 L678.6,206.3 L679.1,206.3 L679.6,206.3 L680.1,206.3 L680.6,206.3 L681.1,206.3 L681.6,206.3 L682.1,206.3 L682.6,206.3 L683.1,206.3 L683.6,206.3 L684.1,206.3 L684.6,206.3 L685.1,206.3 L685.6,206.3 L686.1,206.3 L686.6,206.3 L687.1,206.3 L687.6,206.3 L688.1,206.3 L688.6,206.3 L689.1,206.3 L689.6,206.3 L690.1,206.3 L690.6,206.3 L691.1,206.3 L691.6,206.3 L692.1,206.3 L692.6,206.3 L693.1,206.3 L693.6,206.3 L694.1,206.3 L694.6,206.3 L695.1,206.3 L695.6,206.3 L696.1,206.3 L696.6,206.3 L697.1,206.3 L697.6,206.3 L698.1,206.3 L698.6,206.3 L699.1,206.3 L699.6,206.3 L700.1,206.3 L700.6,206.3 L701.1,206.3 L701.6,206.3 L702.1,206.3 L702.6,206.3 L703.1,206.3 L703.6,206.3 L704.1,206.3 L704.6,206.3 L705.1,206.3 L705.6,206.3 L706.1,206.3 L706.6,206.3 L707.1,206.3 L707.6,206.3 L708.1,206.3 L708.6,206.3 L709.1,206.3 L709.6,206.3 L710.1,206.3 L710.6,206.3 L711.1,206.3 L711.6,206.3 L712.1,206.3 L712.6,206.3 L713.1,206.3 L713.6,206.3 L714.1,206.3 L714.6,206.3 L715.1,206.3 L715.6,206.3 L716.1,206.3" fill="none" stroke="#ff00ff" stroke-width="1.3" stroke-linejoin="round" stroke-linecap="round" />
</g>
<rect x="382.5" y="2.2" width="334.7" height="245.9" fill="none" stroke="#424242" stroke-width="1.3" stroke-linejoin="round"/>
<path d="M412.93,248.1 V253.4 M473.78,248.1 V253.4 M534.64,248.1 V253.4 M595.49,248.1 V253.4 M656.35,248.1 V253.4 M717.2,248.1 V253.4 M382.5,248.1 V251.2 M443.35,248.1 V251.2 M504.21,248.1 V251.2 M565.06,248.1 V251.2 M625.92,248.1 V251.2 M686.77,248.1 V251.2 " stroke="#424242" stroke-width="1.3" fill="none"/>
<text transform="translate(412.93,264.5) scale(0.95,1)" x="0" y="0" font-family="Liberation Serif" font-size="10.6" text-anchor="middle" fill="#1a1a1a">158</text>
<text transform="translate(473.78,264.5) scale(0.95,1)" x="0" y="0" font-family="Liberation Serif" font-size="10.6" text-anchor="middle" fill="#1a1a1a">160</text>
<text transform="translate(534.64,264.5) scale(0.95,1)" x="0" y="0" font-family="Liberation Serif" font-size="10.6" text-anchor="middle" fill="#1a1a1a">162</text>
<text transform="translate(595.49,264.5) scale(0.95,1)" x="0" y="0" font-family="Liberation Serif" font-size="10.6" text-anchor="middle" fill="#1a1a1a">164</text>
<text transform="translate(656.35,264.5) scale(0.95,1)" x="0" y="0" font-family="Liberation Serif" font-size="10.6" text-anchor="middle" fill="#1a1a1a">166</text>
<text transform="translate(717.2,264.5) scale(0.95,1)" x="0" y="0" font-family="Liberation Serif" font-size="10.6" text-anchor="middle" fill="#1a1a1a">168</text>
<text x="549.8" y="276" font-family="Liberation Serif" font-size="12" font-weight="normal" text-anchor="middle" fill="#1a1a1a" >Binding energy (eV)</text>
<text transform="translate(371.1,126) rotate(-90)" x="0" y="0" font-family="Liberation Serif" font-size="12" text-anchor="middle" fill="#1a1a1a">Intensity (s.u.)</text>
<text x="390.3" y="26.8" font-family="Liberation Serif" font-size="14" font-weight="bold" text-anchor="start" fill="#1a1a1a" stroke="#1a1a1a" stroke-width="0.3">(b)</text>
<text x="706.9" y="22.2" font-family="Liberation Serif" font-size="14" font-weight="normal" text-anchor="end" fill="#1a1a1a" >Bi 4f</text>
<text transform="translate(454.6,19) scale(1,1.07)" x="0" y="0" font-family="Liberation Serif" font-size="11.5" font-weight="normal" text-anchor="middle" fill="#1a1a1a" >159.31</text>
<text transform="translate(612.6,57) scale(1,1.07)" x="0" y="0" font-family="Liberation Serif" font-size="11.5" font-weight="normal" text-anchor="middle" fill="#1a1a1a" >164.60</text>
<path d="M452.5,22.6 V49.6" stroke="#b8505c" stroke-width="1.2" stroke-dasharray="3.2 2.7" fill="none"/>
<path d="M612.8,60.6 V88.6" stroke="#b8505c" stroke-width="1.2" stroke-dasharray="3.2 2.7" fill="none"/>
<rect x="0" y="276.4" width="362" height="3" fill="#fff"/>
<g clip-path="url(#cc)">
<path d="M22.1,490.6 L23.3,481.5 L24.6,482.3 L25.8,482.7 L27.5,482.3 L28.7,483.6 L29.9,488.1 L32,495.1 L33.2,493.9 L34.5,491.4 L35.7,491.8 L37,487.7 L37.8,488.1 L39,491.8 L39.9,488.5 L41.1,485.6 L42.4,492.7 L43.6,488.1 L44.7,478.6 L45.7,480.2 L46.9,492.7 L48.1,486 L49,486.9 L49.8,486.9 L50.8,486.5 L51.9,487.7 L53.1,490.6 L54.4,484 L56.4,476.7 L57.7,480.7 L58.9,488.1 L60.1,488.9 L61.2,498 L62.2,490.6 L63.5,487.7 L64.7,486.5 L65.9,487.3 L68,483.6 L69.3,485.6 L70.5,484.4 L71.7,485.2 L73,484.8 L74.2,487.3 L75.6,478 L76.4,478 L77.7,483.5 L79.1,488.9 L80.4,480.1 L81.8,482.2 L83.1,478.1 L85.1,476.8 L87.2,473.4 L88.5,468.6 L89.9,470.7 L91,472.7 L91.9,470 L93.2,460.5 L94.6,453.8 L95.9,447 L97.3,436.2 L99.1,429.5 L99.58,426 L100.39,420 L101.66,410 L102.88,400 L104.05,390 L104.61,380 L105.76,370 L106.94,360 L108.16,350 L109.47,340 L110.93,330 L112.32,322 L113.5,312.5 L114.5,306.5 L115.4,304.3 L116.5,308.2 L117.5,312 L118.5,315 L120,316.6 L121.67,318 L123.05,325 L124.64,335 L126.01,345 L127.27,355 L128.46,365 L130.19,375 L131.75,383 L133.3,390 L134.3,396.6 L135.5,400.5 L136.7,401.4 L137.4,416.2 L138.5,418.3 L139.5,427.6 L141.6,433.8 L143.6,438 L145.7,429.7 L146.7,438 L148.8,442.1 L151.9,448.3 L154,440 L155.6,446.3 L157.1,454.5 L159.2,446.3 L161.2,444.2 L164.3,452.5 L166.4,448.3 L169.5,454.5 L172.6,453.5 L175.7,459.7 L178.8,457.6 L180,460.5 L181.2,467.5 L182.3,464 L184.1,466.3 L185.9,464 L188.2,478.1 L190.6,462.8 L192.9,469.9 L194.1,470.4 L195.2,478.1 L197.6,471 L199.9,474.5 L201.1,477.5 L202.9,474.5 L204.6,475.1 L206,471 L208.1,477.5 L210.5,478.7 L211.9,486.3 L213.4,483.9 L216.3,488 L218.7,478.1 L221,489.2 L222.8,486.3 L224.5,484.5 L226.3,489.8 L228.1,486.3 L230.4,476.9 L233.3,475.1 L235.1,487.4 L236.5,479.7 L238,483.7 L239.5,486.1 L240.5,484.6 L241.9,488.4 L243.9,486.6 L245.4,482.7 L247.4,480.2 L249.4,483.7 L250.9,482.7 L251.9,488.1 L253.4,483.2 L254.8,484.6 L256.3,479.7 L257.8,490.6 L259.8,486.6 L262.3,475.7 L264.8,480.7 L266.7,486.1 L268.7,481.7 L270.2,482.2 L271.9,477.2 L273.2,486.1 L274.7,485.6 L276.2,478.7 L277.7,483.7 L279.6,486.1 L281.6,487.1 L283.1,486.1 L285.1,491.6 L287.1,488.6 L289.1,482.7 L290.6,490.6 L292.5,483.6 L294,485.6 L295.5,482.6 L296.9,481.6 L298.4,478.7 L299.9,477.7 L301.4,479.6 L302.4,483.6 L303.9,479.1 L305.4,482.6 L306.8,487.6 L308.3,485.1 L309.8,486.6 L310.8,489.6 L312.3,483.6 L313.3,476.2 L314.8,480.6 L316.3,482.6 L317.8,483.6 L319.2,485.6 L321.7,485.1 L322.7,481.6 L323.7,479.1 L324.7,487.6 L326.2,484.1 L327.7,483.1 L329.6,481.6 L330.6,478.2 L332.1,479.6 L333.6,481.6 L335.1,483.6 L336.6,485.6 L338.1,483.1 L339.6,483.6 L341,481.6 L342,477.7 L343.5,474.7 L345,480.6 L346.5,481.6 L348.5,473.7 L350.5,483.6" fill="none" stroke="#000000" stroke-width="1.05" stroke-linejoin="round" stroke-linecap="round" />
<path d="M74.1,489.78 L74.6,489.7 L75.1,489.6 L75.6,489.5 L76.1,489.39 L76.6,489.26 L77.1,489.12 L77.6,488.96 L78.1,488.78 L78.6,488.59 L79.1,488.37 L79.6,488.13 L80.1,487.86 L80.6,487.57 L81.1,487.24 L81.6,486.88 L82.1,486.48 L82.6,486.05 L83.1,485.57 L83.6,485.04 L84.1,484.46 L84.6,483.83 L85.1,483.15 L85.6,482.4 L86.1,481.59 L86.6,480.71 L87.1,479.76 L87.6,478.73 L88.1,477.62 L88.6,476.42 L89.1,475.13 L89.6,473.75 L90.1,472.28 L90.6,470.7 L91.1,469.01 L91.6,467.22 L92.1,465.31 L92.6,463.29 L93.1,461.15 L93.6,458.89 L94.1,456.5 L94.6,453.99 L95.1,451.35 L95.6,448.59 L96.1,445.7 L96.6,442.68 L97.1,439.54 L97.6,436.28 L98.1,432.89 L98.6,429.39 L99.1,425.77 L99.6,422.05 L100.1,418.22 L100.6,414.3 L101.1,410.29 L101.6,406.2 L102.1,402.04 L102.6,397.81 L103.1,393.54 L103.6,389.22 L104.1,384.88 L104.6,380.52 L105.1,376.17 L105.6,371.82 L106.1,367.5 L106.6,363.23 L107.1,359.01 L107.6,354.86 L108.1,350.8 L108.6,346.84 L109.1,343 L109.6,339.29 L110.1,335.74 L110.6,332.35 L111.1,329.13 L111.6,326.11 L112.1,323.29 L112.6,320.69 L113.1,318.32 L113.6,316.19 L114.1,314.31 L114.6,312.69 L115.1,311.33 L115.6,310.25 L116.1,309.44 L116.6,308.91 L117.1,308.66 L117.6,308.7 L118.1,309.02 L118.6,309.62 L119.1,310.51 L119.6,311.66 L120.1,313.09 L120.6,314.78 L121.1,316.72 L121.6,318.91 L122.1,321.34 L122.6,323.99 L123.1,326.85 L123.6,329.91 L124.1,333.16 L124.6,336.59 L125.1,340.17 L125.6,343.89 L126.1,347.74 L126.6,351.71 L127.1,355.77 L127.6,359.91 L128.1,364.12 L128.6,368.38 L129.1,372.68 L129.6,377 L130.1,381.33 L130.6,385.64 L131.1,389.94 L131.6,394.21 L132.1,398.44 L132.6,402.61 L133.1,406.71 L133.6,410.74 L134.1,414.69 L134.6,418.54 L135.1,422.3 L135.6,425.95 L136.1,429.49 L136.6,432.92 L137.1,436.23 L137.6,439.42 L138.1,442.48 L138.6,445.42 L139.1,448.24 L139.6,450.92 L140.1,453.48 L140.6,455.92 L141.1,458.23 L141.6,460.41 L142.1,462.48 L142.6,464.43 L143.1,466.27 L143.6,467.99 L144.1,469.61 L144.6,471.13 L145.1,472.54 L145.6,473.86 L146.1,475.09 L146.6,476.23 L147.1,477.28 L147.6,478.26 L148.1,479.16 L148.6,479.99 L149.1,480.76 L149.6,481.46 L150.1,482.1 L150.6,482.69 L151.1,483.23 L151.6,483.72 L152.1,484.16 L152.6,484.57 L153.1,484.93 L153.6,485.26 L154.1,485.56 L154.6,485.83 L155.1,486.07 L155.6,486.29 L156.1,486.48 L156.6,486.65 L157.1,486.81 L157.6,486.94 L158.1,487.06 L158.6,487.17 L159.1,487.27 L159.6,487.35 L160.1,487.42" fill="none" stroke="#ff0000" stroke-width="1.3" stroke-linejoin="round" stroke-linecap="round" />
<path d="M104.1,488.94 L104.6,488.87 L105.1,488.8 L105.6,488.72 L106.1,488.64 L106.6,488.55 L107.1,488.46 L107.6,488.36 L108.1,488.26 L108.6,488.15 L109.1,488.04 L109.6,487.92 L110.1,487.79 L110.6,487.65 L111.1,487.51 L111.6,487.36 L112.1,487.2 L112.6,487.03 L113.1,486.85 L113.6,486.66 L114.1,486.46 L114.6,486.25 L115.1,486.03 L115.6,485.8 L116.1,485.55 L116.6,485.3 L117.1,485.03 L117.6,484.74 L118.1,484.44 L118.6,484.13 L119.1,483.81 L119.6,483.47 L120.1,483.11 L120.6,482.74 L121.1,482.35 L121.6,481.95 L122.1,481.52 L122.6,481.09 L123.1,480.63 L123.6,480.16 L124.1,479.67 L124.6,479.16 L125.1,478.64 L125.6,478.09 L126.1,477.53 L126.6,476.95 L127.1,476.36 L127.6,475.75 L128.1,475.12 L128.6,474.47 L129.1,473.8 L129.6,473.13 L130.1,472.43 L130.6,471.72 L131.1,470.99 L131.6,470.25 L132.1,469.5 L132.6,468.74 L133.1,467.96 L133.6,467.17 L134.1,466.38 L134.6,465.57 L135.1,464.76 L135.6,463.94 L136.1,463.11 L136.6,462.28 L137.1,461.45 L137.6,460.61 L138.1,459.78 L138.6,458.95 L139.1,458.12 L139.6,457.29 L140.1,456.47 L140.6,455.65 L141.1,454.85 L141.6,454.06 L142.1,453.28 L142.6,452.51 L143.1,451.76 L143.6,451.02 L144.1,450.31 L144.6,449.61 L145.1,448.94 L145.6,448.29 L146.1,447.66 L146.6,447.06 L147.1,446.49 L147.6,445.95 L148.1,445.44 L148.6,444.96 L149.1,444.52 L149.6,444.11 L150.1,443.73 L150.6,443.39 L151.1,443.09 L151.6,442.82 L152.1,442.6 L152.6,442.41 L153.1,442.26 L153.6,442.15 L154.1,442.09 L154.6,442.06 L155.1,442.07 L155.6,442.12 L156.1,442.22 L156.6,442.35 L157.1,442.52 L157.6,442.73 L158.1,442.98 L158.6,443.27 L159.1,443.59 L159.6,443.95 L160.1,444.35 L160.6,444.78 L161.1,445.24 L161.6,445.74 L162.1,446.26 L162.6,446.82 L163.1,447.4 L163.6,448.01 L164.1,448.64 L164.6,449.3 L165.1,449.98 L165.6,450.68 L166.1,451.4 L166.6,452.14 L167.1,452.89 L167.6,453.66 L168.1,454.44 L168.6,455.23 L169.1,456.02 L169.6,456.83 L170.1,457.64 L170.6,458.46 L171.1,459.27 L171.6,460.09 L172.1,460.91 L172.6,461.73 L173.1,462.55 L173.6,463.36 L174.1,464.16 L174.6,464.96 L175.1,465.75 L175.6,466.53 L176.1,467.3 L176.6,468.06 L177.1,468.81 L177.6,469.55 L178.1,470.27 L178.6,470.97 L179.1,471.67 L179.6,472.34 L180.1,473.01 L180.6,473.65 L181.1,474.28 L181.6,474.89 L182.1,475.48 L182.6,476.06 L183.1,476.62 L183.6,477.16 L184.1,477.68 L184.6,478.19 L185.1,478.67 L185.6,479.14 L186.1,479.59 L186.6,480.03 L187.1,480.44 L187.6,480.84 L188.1,481.23 L188.6,481.59 L189.1,481.94 L189.6,482.28 L190.1,482.6 L190.6,482.9 L191.1,483.19 L191.6,483.46 L192.1,483.73 L192.6,483.97 L193.1,484.21 L193.6,484.43 L194.1,484.64 L194.6,484.84 L195.1,485.02 L195.6,485.2 L196.1,485.37 L196.6,485.52 L197.1,485.67 L197.6,485.81 L198.1,485.94 L198.6,486.06 L199.1,486.17 L199.6,486.27 L200.1,486.37 L200.6,486.46 L201.1,486.55 L201.6,486.63 L202.1,486.7 L202.6,486.77 L203.1,486.83 L203.6,486.89 L204.1,486.95 L204.6,487 L205.1,487.04" fill="none" stroke="#0000ff" stroke-width="1.3" stroke-linejoin="round" stroke-linecap="round" />
<path d="M22.6,487.3 L23.1,487.4 L23.6,487.5 L24.1,487.61 L24.6,487.71 L25.1,487.82 L25.6,487.92 L26.1,488.03 L26.6,488.13 L27.1,488.24 L27.6,488.35 L28.1,488.46 L28.6,488.57 L29.1,488.69 L29.6,488.82 L30.1,488.96 L30.6,489.1 L31.1,489.23 L31.6,489.37 L32.1,489.5 L32.6,489.62 L33.1,489.74 L33.6,489.83 L34.1,489.91 L34.6,489.97 L35.1,490.01 L35.6,490.05 L36.1,490.08 L36.6,490.12 L37.1,490.15 L37.6,490.18 L38.1,490.2 L38.6,490.23 L39.1,490.26 L39.6,490.28 L40.1,490.3 L40.6,490.32 L41.1,490.34 L41.6,490.35 L42.1,490.37 L42.6,490.38 L43.1,490.39 L43.6,490.39 L44.1,490.4 L44.6,490.4 L45.1,490.4 L45.6,490.4 L46.1,490.4 L46.6,490.4 L47.1,490.4 L47.6,490.4 L48.1,490.4 L48.6,490.4 L49.1,490.4 L49.6,490.4 L50.1,490.4 L50.6,490.4 L51.1,490.4 L51.6,490.4 L52.1,490.4 L52.6,490.4 L53.1,490.4 L53.6,490.4 L54.1,490.4 L54.6,490.4 L55.1,490.4 L55.6,490.4 L56.1,490.4 L56.6,490.4 L57.1,490.4 L57.6,490.4 L58.1,490.4 L58.6,490.4 L59.1,490.4 L59.6,490.4 L60.1,490.4 L60.6,490.4 L61.1,490.4 L61.6,490.4 L62.1,490.4 L62.6,490.4 L63.1,490.4 L63.6,490.4 L64.1,490.39 L64.6,490.39 L65.1,490.39 L65.6,490.38 L66.1,490.38 L66.6,490.38 L67.1,490.37 L67.6,490.37 L68.1,490.36 L68.6,490.36 L69.1,490.35 L69.6,490.35 L70.1,490.34 L70.6,490.34 L71.1,490.33 L71.6,490.32 L72.1,490.32 L72.6,490.31 L73.1,490.3 L73.6,490.3 L74.1,490.29 L74.6,490.28 L75.1,490.27 L75.6,490.27 L76.1,490.26 L76.6,490.25 L77.1,490.24 L77.6,490.24 L78.1,490.23 L78.6,490.22 L79.1,490.21 L79.6,490.21 L80.1,490.2 L80.6,490.19 L81.1,490.18 L81.6,490.17 L82.1,490.16 L82.6,490.16 L83.1,490.15 L83.6,490.14 L84.1,490.12 L84.6,490.11 L85.1,490.1 L85.6,490.09 L86.1,490.08 L86.6,490.07 L87.1,490.05 L87.6,490.04 L88.1,490.03 L88.6,490.01 L89.1,490 L89.6,489.98 L90.1,489.97 L90.6,489.95 L91.1,489.94 L91.6,489.92 L92.1,489.91 L92.6,489.89 L93.1,489.88 L93.6,489.86 L94.1,489.84 L94.6,489.82 L95.1,489.81 L95.6,489.79 L96.1,489.77 L96.6,489.75 L97.1,489.74 L97.6,489.72 L98.1,489.7 L98.6,489.68 L99.1,489.66 L99.6,489.64 L100.1,489.62 L100.6,489.61 L101.1,489.59 L101.6,489.57 L102.1,489.55 L102.6,489.53 L103.1,489.51 L103.6,489.49 L104.1,489.47 L104.6,489.45 L105.1,489.43 L105.6,489.41 L106.1,489.39 L106.6,489.37 L107.1,489.35 L107.6,489.33 L108.1,489.31 L108.6,489.29 L109.1,489.27 L109.6,489.25 L110.1,489.23 L110.6,489.21 L111.1,489.19 L111.6,489.17 L112.1,489.15 L112.6,489.13 L113.1,489.11 L113.6,489.09 L114.1,489.07 L114.6,489.05 L115.1,489.03 L115.6,489.01 L116.1,488.99 L116.6,488.97 L117.1,488.95 L117.6,488.93 L118.1,488.91 L118.6,488.89 L119.1,488.87 L119.6,488.85 L120.1,488.84 L120.6,488.82 L121.1,488.8 L121.6,488.78 L122.1,488.76 L122.6,488.75 L123.1,488.73 L123.6,488.71 L124.1,488.69 L124.6,488.68 L125.1,488.66 L125.6,488.65 L126.1,488.63 L126.6,488.61 L127.1,488.6 L127.6,488.58 L128.1,488.57 L128.6,488.55 L129.1,488.54 L129.6,488.53 L130.1,488.51 L130.6,488.5 L131.1,488.49 L131.6,488.48 L132.1,488.46 L132.6,488.45 L133.1,488.44 L133.6,488.43 L134.1,488.42 L134.6,488.41 L135.1,488.4 L135.6,488.39 L136.1,488.38 L136.6,488.37 L137.1,488.36 L137.6,488.35 L138.1,488.34 L138.6,488.33 L139.1,488.32 L139.6,488.31 L140.1,488.3 L140.6,488.29 L141.1,488.28 L141.6,488.28 L142.1,488.27 L142.6,488.26 L143.1,488.25 L143.6,488.24 L144.1,488.23 L144.6,488.22 L145.1,488.21 L145.6,488.2 L146.1,488.2 L146.6,488.19 L147.1,488.18 L147.6,488.17 L148.1,488.16 L148.6,488.15 L149.1,488.15 L149.6,488.14 L150.1,488.13 L150.6,488.12 L151.1,488.11 L151.6,488.1 L152.1,488.1 L152.6,488.09 L153.1,488.08 L153.6,488.07 L154.1,488.07 L154.6,488.06 L155.1,488.05 L155.6,488.04 L156.1,488.03 L156.6,488.03 L157.1,488.02 L157.6,488.01 L158.1,488 L158.6,488 L159.1,487.99 L159.6,487.98 L160.1,487.98 L160.6,487.97 L161.1,487.96 L161.6,487.96 L162.1,487.95 L162.6,487.94 L163.1,487.93 L163.6,487.93 L164.1,487.92 L164.6,487.91 L165.1,487.91 L165.6,487.9 L166.1,487.9 L166.6,487.89 L167.1,487.88 L167.6,487.88 L168.1,487.87 L168.6,487.86 L169.1,487.86 L169.6,487.85 L170.1,487.85 L170.6,487.84 L171.1,487.84 L171.6,487.83 L172.1,487.82 L172.6,487.82 L173.1,487.81 L173.6,487.81 L174.1,487.8 L174.6,487.8 L175.1,487.79 L175.6,487.79 L176.1,487.78 L176.6,487.78 L177.1,487.77 L177.6,487.77 L178.1,487.76 L178.6,487.76 L179.1,487.75 L179.6,487.75 L180.1,487.74 L180.6,487.74 L181.1,487.73 L181.6,487.73 L182.1,487.72 L182.6,487.72 L183.1,487.72 L183.6,487.71 L184.1,487.71 L184.6,487.7 L185.1,487.7 L185.6,487.7 L186.1,487.69 L186.6,487.69 L187.1,487.68 L187.6,487.68 L188.1,487.68 L188.6,487.67 L189.1,487.67 L189.6,487.67 L190.1,487.66 L190.6,487.66 L191.1,487.66 L191.6,487.65 L192.1,487.65 L192.6,487.64 L193.1,487.64 L193.6,487.64 L194.1,487.64 L194.6,487.63 L195.1,487.63 L195.6,487.63 L196.1,487.62 L196.6,487.62 L197.1,487.62 L197.6,487.61 L198.1,487.61 L198.6,487.61 L199.1,487.6 L199.6,487.6 L200.1,487.6 L200.6,487.6 L201.1,487.59 L201.6,487.59 L202.1,487.59 L202.6,487.59 L203.1,487.58 L203.6,487.58 L204.1,487.58 L204.6,487.57 L205.1,487.57 L205.6,487.57 L206.1,487.57 L206.6,487.56 L207.1,487.56 L207.6,487.56 L208.1,487.56 L208.6,487.55 L209.1,487.55 L209.6,487.55 L210.1,487.55 L210.6,487.54 L211.1,487.54 L211.6,487.54 L212.1,487.54 L212.6,487.53 L213.1,487.53 L213.6,487.53 L214.1,487.53 L214.6,487.53 L215.1,487.52 L215.6,487.52 L216.1,487.52 L216.6,487.52 L217.1,487.51 L217.6,487.51 L218.1,487.51 L218.6,487.51 L219.1,487.5 L219.6,487.5 L220.1,487.5 L220.6,487.5 L221.1,487.49 L221.6,487.49 L222.1,487.49 L222.6,487.49 L223.1,487.49 L223.6,487.48 L224.1,487.48 L224.6,487.48 L225.1,487.48 L225.6,487.47 L226.1,487.47 L226.6,487.47 L227.1,487.47 L227.6,487.46 L228.1,487.46 L228.6,487.46 L229.1,487.46 L229.6,487.45 L230.1,487.45 L230.6,487.45 L231.1,487.45 L231.6,487.44 L232.1,487.44 L232.6,487.44 L233.1,487.44 L233.6,487.43 L234.1,487.43 L234.6,487.43 L235.1,487.43 L235.6,487.42 L236.1,487.42 L236.6,487.42 L237.1,487.42 L237.6,487.41 L238.1,487.41 L238.6,487.41 L239.1,487.41 L239.6,487.4 L240.1,487.4 L240.6,487.4 L241.1,487.39 L241.6,487.39 L242.1,487.39 L242.6,487.39 L243.1,487.38 L243.6,487.38 L244.1,487.38 L244.6,487.38 L245.1,487.37 L245.6,487.37 L246.1,487.37 L246.6,487.36 L247.1,487.36 L247.6,487.36 L248.1,487.36 L248.6,487.36 L249.1,487.35 L249.6,487.35 L250.1,487.35 L250.6,487.35 L251.1,487.34 L251.6,487.34 L252.1,487.34 L252.6,487.34 L253.1,487.33 L253.6,487.33 L254.1,487.33 L254.6,487.33 L255.1,487.32 L255.6,487.32 L256.1,487.32 L256.6,487.32 L257.1,487.32 L257.6,487.31 L258.1,487.31 L258.6,487.31 L259.1,487.31 L259.6,487.3 L260.1,487.3 L260.6,487.3 L261.1,487.3 L261.6,487.29 L262.1,487.29 L262.6,487.29 L263.1,487.29 L263.6,487.28 L264.1,487.28 L264.6,487.28 L265.1,487.28 L265.6,487.27 L266.1,487.27 L266.6,487.27 L267.1,487.27 L267.6,487.26 L268.1,487.26 L268.6,487.26 L269.1,487.26 L269.6,487.25 L270.1,487.25 L270.6,487.25 L271.1,487.24 L271.6,487.24 L272.1,487.24 L272.6,487.24 L273.1,487.23 L273.6,487.23 L274.1,487.23 L274.6,487.22 L275.1,487.22 L275.6,487.22 L276.1,487.21 L276.6,487.21 L277.1,487.21 L277.6,487.2 L278.1,487.2 L278.6,487.2 L279.1,487.19 L279.6,487.19 L280.1,487.19 L280.6,487.18 L281.1,487.18 L281.6,487.17 L282.1,487.17 L282.6,487.17 L283.1,487.16 L283.6,487.16 L284.1,487.15 L284.6,487.15 L285.1,487.15 L285.6,487.14 L286.1,487.14 L286.6,487.13 L287.1,487.13 L287.6,487.12 L288.1,487.12 L288.6,487.11 L289.1,487.11 L289.6,487.1 L290.1,487.1 L290.6,487.09 L291.1,487.09 L291.6,487.08 L292.1,487.08 L292.6,487.07 L293.1,487.06 L293.6,487.06 L294.1,487.05 L294.6,487.04 L295.1,487.03 L295.6,487.02 L296.1,487.02 L296.6,487.01 L297.1,487 L297.6,486.99 L298.1,486.98 L298.6,486.97 L299.1,486.96 L299.6,486.95 L300.1,486.94 L300.6,486.92 L301.1,486.91 L301.6,486.9 L302.1,486.89 L302.6,486.88 L303.1,486.87 L303.6,486.85 L304.1,486.84 L304.6,486.83 L305.1,486.81 L305.6,486.8 L306.1,486.78 L306.6,486.77 L307.1,486.76 L307.6,486.74 L308.1,486.73 L308.6,486.71 L309.1,486.7 L309.6,486.68 L310.1,486.66 L310.6,486.65 L311.1,486.63 L311.6,486.61 L312.1,486.6 L312.6,486.58 L313.1,486.56 L313.6,486.55 L314.1,486.53 L314.6,486.51 L315.1,486.49 L315.6,486.47 L316.1,486.46 L316.6,486.44 L317.1,486.42 L317.6,486.4 L318.1,486.38 L318.6,486.36 L319.1,486.34 L319.6,486.32 L320.1,486.3 L320.6,486.28 L321.1,486.26 L321.6,486.24 L322.1,486.22 L322.6,486.2 L323.1,486.17 L323.6,486.15 L324.1,486.13 L324.6,486.11 L325.1,486.09 L325.6,486.07 L326.1,486.04 L326.6,486.02 L327.1,486 L327.6,485.98 L328.1,485.95 L328.6,485.93 L329.1,485.91 L329.6,485.88 L330.1,485.86 L330.6,485.84 L331.1,485.81 L331.6,485.79 L332.1,485.76 L332.6,485.74 L333.1,485.72 L333.6,485.69 L334.1,485.67 L334.6,485.64 L335.1,485.62 L335.6,485.59 L336.1,485.57 L336.6,485.54 L337.1,485.52 L337.6,485.49 L338.1,485.47 L338.6,485.44 L339.1,485.41 L339.6,485.39 L340.1,485.36 L340.6,485.34 L341.1,485.31 L341.6,485.28 L342.1,485.26 L342.6,485.23 L343.1,485.2 L343.6,485.18 L344.1,485.15 L344.6,485.12 L345.1,485.1 L345.6,485.07 L346.1,485.04 L346.6,485.01 L347.1,484.99 L347.6,484.96 L348.1,484.93 L348.6,484.91 L349.1,484.88 L349.6,484.85 L350.1,484.82" fill="none" stroke="#ff00ff" stroke-width="1.3" stroke-linejoin="round" stroke-linecap="round" />
</g>
<rect x="21.7" y="278.9" width="329.5" height="242.4" fill="none" stroke="#424242" stroke-width="1.3" stroke-linejoin="round"/>
<path d="M21.7,521.3 V526.6 M68.77,521.3 V526.6 M115.84,521.3 V526.6 M162.91,521.3 V526.6 M209.99,521.3 V526.6 M257.06,521.3 V526.6 M304.13,521.3 V526.6 M351.2,521.3 V526.6 M45.24,521.3 V524.4 M92.31,521.3 V524.4 M139.38,521.3 V524.4 M186.45,521.3 V524.4 M233.52,521.3 V524.4 M280.59,521.3 V524.4 M327.66,521.3 V524.4 " stroke="#424242" stroke-width="1.3" fill="none"/>
<text transform="translate(21.7,538.2) scale(0.9,1)" x="0" y="0" font-family="Liberation Serif" font-size="10.8" text-anchor="middle" fill="#1a1a1a">526</text>
<text transform="translate(68.77,538.2) scale(0.9,1)" x="0" y="0" font-family="Liberation Serif" font-size="10.8" text-anchor="middle" fill="#1a1a1a">528</text>
<text transform="translate(115.84,538.2) scale(0.9,1)" x="0" y="0" font-family="Liberation Serif" font-size="10.8" text-anchor="middle" fill="#1a1a1a">530</text>
<text transform="translate(162.91,538.2) scale(0.9,1)" x="0" y="0" font-family="Liberation Serif" font-size="10.8" text-anchor="middle" fill="#1a1a1a">532</text>
<text transform="translate(209.99,538.2) scale(0.9,1)" x="0" y="0" font-family="Liberation Serif" font-size="10.8" text-anchor="middle" fill="#1a1a1a">534</text>
<text transform="translate(257.06,538.2) scale(0.9,1)" x="0" y="0" font-family="Liberation Serif" font-size="10.8" text-anchor="middle" fill="#1a1a1a">536</text>
<text transform="translate(304.13,538.2) scale(0.9,1)" x="0" y="0" font-family="Liberation Serif" font-size="10.8" text-anchor="middle" fill="#1a1a1a">538</text>
<text transform="translate(351.2,538.2) scale(0.9,1)" x="0" y="0" font-family="Liberation Serif" font-size="10.8" text-anchor="middle" fill="#1a1a1a">540</text>
<text x="186.6" y="547.8" font-family="Liberation Serif" font-size="12" font-weight="normal" text-anchor="middle" fill="#1a1a1a" >Binding energy (eV)</text>
<text transform="translate(10.9,408.2) rotate(-90)" x="0" y="0" font-family="Liberation Serif" font-size="12" text-anchor="middle" fill="#1a1a1a">Intensity (s.u.)</text>
<text x="30.4" y="301.5" font-family="Liberation Serif" font-size="14" font-weight="bold" text-anchor="start" fill="#1a1a1a" stroke="#1a1a1a" stroke-width="0.3">(c)</text>
<text x="338.6" y="299" font-family="Liberation Serif" font-size="14" font-weight="normal" text-anchor="end" fill="#1a1a1a" >O 1s</text>
<text transform="translate(115,296) scale(1,1.07)" x="0" y="0" font-family="Liberation Serif" font-size="12" font-weight="normal" text-anchor="middle" fill="#1a1a1a" >530.10</text>
<text transform="translate(160.5,430.1) scale(1,1.07)" x="0" y="0" font-family="Liberation Serif" font-size="11.5" font-weight="normal" text-anchor="middle" fill="#1a1a1a" >531.44</text>
<path d="M117.1,300.2 V346.3" stroke="#b8505c" stroke-width="1.2" stroke-dasharray="3.2 2.7" fill="none"/>
<path d="M156.1,434.9 V467" stroke="#b8505c" stroke-width="1.2" stroke-dasharray="3.2 2.7" fill="none"/>
<rect x="362" y="278.0" width="363" height="4" fill="#fff"/>
<g clip-path="url(#cd)">
<path d="M385.3,491.6 L386.6,489.8 L388.4,486.7 L390.2,488 L392.5,491.6 L394.3,490.7 L396.5,491.4 L398.3,487.6 L399.7,490.3 L401,491.6 L402.4,490.3 L404.6,501.5 L406,494.3 L408.7,482.2 L410,492.5 L411.4,498.8 L412.7,500.6 L414.5,493.4 L416.8,491.6 L418.1,497 L419.5,500.6 L420.8,500.2 L422.6,496.6 L424.4,497.5 L425.8,499.7 L427.1,502.9 L429.4,494.3 L431.6,498.4 L433.5,498.4 L435.3,493 L437.1,494.3 L439.3,498.8 L440.7,492.5 L441.9,490.9 L443.5,494 L445.7,499.4 L447.6,494.7 L452.3,489 L455.2,492.8 L458.9,489 L460.8,483.3 L462.7,485.2 L466.5,467.2 L469.4,470.1 L473.1,460.6 L475,456.8 L476,445.5 L479.8,439.8 L481.7,428.4 L483.6,409.5 L486,390 L488.9,375.4 L493.8,349.6 L496.8,329.8 L497.8,324.8 L501.8,315.9 L502.8,318.8 L503.8,315.9 L505.8,306 L507.5,309.5 L509.7,310.9 L512.7,313.9 L515.7,321.8 L519.6,335.7 L522.6,349.6 L525.6,373.4 L527.6,375.4 L530,385.1 L532.6,396.5 L536.3,409.1 L540.1,423 L542.7,429.9 L544.5,423.6 L546.4,425.5 L549,421.7 L551.5,417.9 L553.4,417.3 L555.3,411.6 L557.2,418.5 L559,407.2 L561.6,405.3 L563.5,404 L564.7,395.9 L567.2,392.7 L568.5,401.5 L570.4,399 L571.9,395.9 L573.5,394 L575.4,397.1 L578,399 L580.5,400.3 L582.4,405.9 L584.3,411.6 L586.2,412.9 L588.7,420.4 L591.8,424.2 L594.4,431.8 L595.6,438.1 L597.2,444.4 L600.1,454.5 L602.2,455.2 L604.4,463.9 L606.6,466 L610.2,476.1 L612.3,476.8 L615.9,481.9 L618.8,483.3 L621,485.5 L623.9,490.5 L626.7,489.1 L629.6,492 L631.8,495.6 L634.7,494.8 L636.8,493.4 L639,497 L641.2,494.1 L643.6,495.6 L645.5,497.7 L647.3,504.9 L649.1,498.4 L652,495.6 L654.1,495.6 L656.3,499.2 L658.4,500.6 L659.9,498.7 L661.7,496.9 L664,499.1 L665.8,495.1 L668,493.5 L669.8,498.7 L672,498.9 L674.3,502.1 L676.5,497.4 L678.3,496.9 L680.6,493.5 L682.4,494.2 L684.6,492.4 L686.8,495.1 L689.1,502.3 L690.9,499.6 L693.1,495.1 L694.9,497.8 L697.2,500.5 L698.9,498.5 L701.2,499.1 L703.4,501.4 L705.2,498.7 L707.5,504.1 L709.3,499.1 L711.5,499.6 L713.7,501.8" fill="none" stroke="#000000" stroke-width="1.05" stroke-linejoin="round" stroke-linecap="round" />
<path d="M426.1,497.11 L426.6,497.11 L427.1,497.12 L427.6,497.13 L428.1,497.13 L428.6,497.14 L429.1,497.14 L429.6,497.14 L430.1,497.14 L430.6,497.14 L431.1,497.14 L431.6,497.13 L432.1,497.13 L432.6,497.12 L433.1,497.11 L433.6,497.1 L434.1,497.09 L434.6,497.07 L435.1,497.05 L435.6,497.03 L436.1,497.01 L436.6,496.98 L437.1,496.95 L437.6,496.92 L438.1,496.88 L438.6,496.84 L439.1,496.79 L439.6,496.74 L440.1,496.69 L440.6,496.63 L441.1,496.56 L441.6,496.49 L442.1,496.42 L442.6,496.33 L443.1,496.25 L443.6,496.15 L444.1,496.05 L444.6,495.93 L445.1,495.82 L445.6,495.69 L446.1,495.55 L446.6,495.41 L447.1,495.25 L447.6,495.08 L448.1,494.91 L448.6,494.72 L449.1,494.52 L449.6,494.3 L450.1,494.07 L450.6,493.83 L451.1,493.57 L451.6,493.3 L452.1,493.01 L452.6,492.7 L453.1,492.37 L453.6,492.03 L454.1,491.66 L454.6,491.28 L455.1,490.87 L455.6,490.44 L456.1,489.98 L456.6,489.5 L457.1,489 L457.6,488.47 L458.1,487.91 L458.6,487.32 L459.1,486.7 L459.6,486.06 L460.1,485.38 L460.6,484.66 L461.1,483.92 L461.6,483.14 L462.1,482.32 L462.6,481.47 L463.1,480.57 L463.6,479.64 L464.1,478.67 L464.6,477.66 L465.1,476.61 L465.6,475.51 L466.1,474.37 L466.6,473.19 L467.1,471.96 L467.6,470.68 L468.1,469.36 L468.6,467.99 L469.1,466.57 L469.6,465.11 L470.1,463.59 L470.6,462.02 L471.1,460.41 L471.6,458.74 L472.1,457.03 L472.6,455.26 L473.1,453.45 L473.6,451.58 L474.1,449.66 L474.6,447.69 L475.1,445.68 L475.6,443.61 L476.1,441.5 L476.6,439.33 L477.1,437.12 L477.6,434.87 L478.1,432.57 L478.6,430.22 L479.1,427.83 L479.6,425.41 L480.1,422.94 L480.6,420.43 L481.1,417.89 L481.6,415.31 L482.1,412.7 L482.6,410.05 L483.1,407.39 L483.6,404.69 L484.1,401.97 L484.6,399.23 L485.1,396.48 L485.6,393.71 L486.1,390.92 L486.6,388.13 L487.1,385.33 L487.6,382.53 L488.1,379.73 L488.6,376.94 L489.1,374.15 L489.6,371.38 L490.1,368.62 L490.6,365.87 L491.1,363.15 L491.6,360.46 L492.1,357.8 L492.6,355.17 L493.1,352.58 L493.6,350.03 L494.1,347.53 L494.6,345.08 L495.1,342.68 L495.6,340.34 L496.1,338.06 L496.6,335.84 L497.1,333.7 L497.6,331.62 L498.1,329.63 L498.6,327.71 L499.1,325.87 L499.6,324.12 L500.1,322.46 L500.6,320.89 L501.1,319.42 L501.6,318.05 L502.1,316.77 L502.6,315.6 L503.1,314.53 L503.6,313.57 L504.1,312.72 L504.6,311.98 L505.1,311.35 L505.6,310.84 L506.1,310.44 L506.6,310.15 L507.1,309.98 L507.6,309.92 L508.1,309.98 L508.6,310.16 L509.1,310.45 L509.6,310.86 L510.1,311.38 L510.6,312.02 L511.1,312.76 L511.6,313.62 L512.1,314.59 L512.6,315.66 L513.1,316.84 L513.6,318.12 L514.1,319.5 L514.6,320.97 L515.1,322.55 L515.6,324.21 L516.1,325.97 L516.6,327.81 L517.1,329.73 L517.6,331.74 L518.1,333.81 L518.6,335.97 L519.1,338.19 L519.6,340.47 L520.1,342.82 L520.6,345.22 L521.1,347.68 L521.6,350.18 L522.1,352.74 L522.6,355.33 L523.1,357.96 L523.6,360.63 L524.1,363.33 L524.6,366.05 L525.1,368.8 L525.6,371.57 L526.1,374.35 L526.6,377.14 L527.1,379.94 L527.6,382.74 L528.1,385.55 L528.6,388.35 L529.1,391.15 L529.6,393.94 L530.1,396.71 L530.6,399.47 L531.1,402.22 L531.6,404.94 L532.1,407.64 L532.6,410.32 L533.1,412.96 L533.6,415.58 L534.1,418.16 L534.6,420.71 L535.1,423.22 L535.6,425.7 L536.1,428.13 L536.6,430.53 L537.1,432.88 L537.6,435.19 L538.1,437.45 L538.6,439.66 L539.1,441.83 L539.6,443.95 L540.1,446.03 L540.6,448.05 L541.1,450.02 L541.6,451.95 L542.1,453.82 L542.6,455.64 L543.1,457.42 L543.6,459.14 L544.1,460.81 L544.6,462.43 L545.1,464.01 L545.6,465.53 L546.1,467 L546.6,468.43 L547.1,469.81 L547.6,471.14 L548.1,472.42 L548.6,473.66 L549.1,474.85 L549.6,476 L550.1,477.11 L550.6,478.17 L551.1,479.19 L551.6,480.17 L552.1,481.11 L552.6,482.02 L553.1,482.88 L553.6,483.71 L554.1,484.5 L554.6,485.26 L555.1,485.98 L555.6,486.67 L556.1,487.33 L556.6,487.96 L557.1,488.56 L557.6,489.13 L558.1,489.67 L558.6,490.18 L559.1,490.67 L559.6,491.14 L560.1,491.58 L560.6,492 L561.1,492.4 L561.6,492.78 L562.1,493.13 L562.6,493.47 L563.1,493.79 L563.6,494.09 L564.1,494.38 L564.6,494.65 L565.1,494.91 L565.6,495.15 L566.1,495.38 L566.6,495.59 L567.1,495.79 L567.6,495.98 L568.1,496.16 L568.6,496.33 L569.1,496.49 L569.6,496.64 L570.1,496.78 L570.6,496.91 L571.1,497.04 L571.6,497.15 L572.1,497.26 L572.6,497.37 L573.1,497.46 L573.6,497.55 L574.1,497.64 L574.6,497.72 L575.1,497.79 L575.6,497.86 L576.1,497.93 L576.6,497.99 L577.1,498.05 L577.6,498.1 L578.1,498.16 L578.6,498.2 L579.1,498.25 L579.6,498.29 L580.1,498.33 L580.6,498.37 L581.1,498.4 L581.6,498.44 L582.1,498.47 L582.6,498.5 L583.1,498.53 L583.6,498.55 L584.1,498.58 L584.6,498.6 L585.1,498.62 L585.6,498.64 L586.1,498.66 L586.6,498.68 L587.1,498.7 L587.6,498.71 L588.1,498.73 L588.6,498.75 L589.1,498.76" fill="none" stroke="#ff0000" stroke-width="1.3" stroke-linejoin="round" stroke-linecap="round" />
<path d="M494.1,497.81 L494.6,497.79 L495.1,497.78 L495.6,497.77 L496.1,497.76 L496.6,497.74 L497.1,497.73 L497.6,497.72 L498.1,497.7 L498.6,497.68 L499.1,497.67 L499.6,497.65 L500.1,497.63 L500.6,497.61 L501.1,497.59 L501.6,497.57 L502.1,497.55 L502.6,497.52 L503.1,497.5 L503.6,497.47 L504.1,497.44 L504.6,497.41 L505.1,497.38 L505.6,497.34 L506.1,497.31 L506.6,497.27 L507.1,497.23 L507.6,497.18 L508.1,497.14 L508.6,497.08 L509.1,497.03 L509.6,496.97 L510.1,496.91 L510.6,496.85 L511.1,496.78 L511.6,496.7 L512.1,496.63 L512.6,496.54 L513.1,496.45 L513.6,496.36 L514.1,496.26 L514.6,496.15 L515.1,496.04 L515.6,495.92 L516.1,495.79 L516.6,495.65 L517.1,495.51 L517.6,495.35 L518.1,495.19 L518.6,495.02 L519.1,494.84 L519.6,494.65 L520.1,494.44 L520.6,494.23 L521.1,494 L521.6,493.76 L522.1,493.51 L522.6,493.25 L523.1,492.97 L523.6,492.67 L524.1,492.37 L524.6,492.04 L525.1,491.7 L525.6,491.34 L526.1,490.97 L526.6,490.57 L527.1,490.16 L527.6,489.73 L528.1,489.28 L528.6,488.81 L529.1,488.32 L529.6,487.81 L530.1,487.27 L530.6,486.72 L531.1,486.14 L531.6,485.53 L532.1,484.9 L532.6,484.25 L533.1,483.58 L533.6,482.87 L534.1,482.14 L534.6,481.39 L535.1,480.61 L535.6,479.8 L536.1,478.97 L536.6,478.11 L537.1,477.22 L537.6,476.3 L538.1,475.35 L538.6,474.38 L539.1,473.38 L539.6,472.35 L540.1,471.29 L540.6,470.21 L541.1,469.1 L541.6,467.96 L542.1,466.79 L542.6,465.6 L543.1,464.38 L543.6,463.14 L544.1,461.87 L544.6,460.57 L545.1,459.26 L545.6,457.92 L546.1,456.55 L546.6,455.17 L547.1,453.77 L547.6,452.34 L548.1,450.9 L548.6,449.44 L549.1,447.97 L549.6,446.48 L550.1,444.98 L550.6,443.46 L551.1,441.94 L551.6,440.41 L552.1,438.87 L552.6,437.33 L553.1,435.78 L553.6,434.23 L554.1,432.69 L554.6,431.14 L555.1,429.6 L555.6,428.06 L556.1,426.54 L556.6,425.02 L557.1,423.52 L557.6,422.03 L558.1,420.56 L558.6,419.1 L559.1,417.67 L559.6,416.26 L560.1,414.88 L560.6,413.53 L561.1,412.2 L561.6,410.91 L562.1,409.65 L562.6,408.43 L563.1,407.24 L563.6,406.1 L564.1,405 L564.6,403.95 L565.1,402.94 L565.6,401.98 L566.1,401.07 L566.6,400.22 L567.1,399.41 L567.6,398.67 L568.1,397.98 L568.6,397.34 L569.1,396.77 L569.6,396.26 L570.1,395.81 L570.6,395.42 L571.1,395.09 L571.6,394.83 L572.1,394.64 L572.6,394.51 L573.1,394.44 L573.6,394.44 L574.1,394.5 L574.6,394.64 L575.1,394.83 L575.6,395.09 L576.1,395.42 L576.6,395.8 L577.1,396.25 L577.6,396.77 L578.1,397.34 L578.6,397.97 L579.1,398.66 L579.6,399.41 L580.1,400.22 L580.6,401.07 L581.1,401.98 L581.6,402.94 L582.1,403.95 L582.6,405.01 L583.1,406.11 L583.6,407.26 L584.1,408.44 L584.6,409.67 L585.1,410.93 L585.6,412.22 L586.1,413.55 L586.6,414.91 L587.1,416.3 L587.6,417.71 L588.1,419.15 L588.6,420.6 L589.1,422.08 L589.6,423.57 L590.1,425.08 L590.6,426.61 L591.1,428.14 L591.6,429.68 L592.1,431.23 L592.6,432.78 L593.1,434.34 L593.6,435.89 L594.1,437.45 L594.6,439 L595.1,440.55 L595.6,442.09 L596.1,443.62 L596.6,445.14 L597.1,446.66 L597.6,448.15 L598.1,449.64 L598.6,451.11 L599.1,452.56 L599.6,453.99 L600.1,455.41 L600.6,456.8 L601.1,458.17 L601.6,459.53 L602.1,460.86 L602.6,462.16 L603.1,463.44 L603.6,464.7 L604.1,465.93 L604.6,467.13 L605.1,468.31 L605.6,469.46 L606.1,470.58 L606.6,471.68 L607.1,472.75 L607.6,473.79 L608.1,474.8 L608.6,475.79 L609.1,476.75 L609.6,477.68 L610.1,478.58 L610.6,479.45 L611.1,480.3 L611.6,481.12 L612.1,481.91 L612.6,482.68 L613.1,483.42 L613.6,484.13 L614.1,484.82 L614.6,485.49 L615.1,486.13 L615.6,486.74 L616.1,487.33 L616.6,487.9 L617.1,488.45 L617.6,488.97 L618.1,489.47 L618.6,489.95 L619.1,490.41 L619.6,490.86 L620.1,491.28 L620.6,491.68 L621.1,492.07 L621.6,492.43 L622.1,492.78 L622.6,493.12 L623.1,493.44 L623.6,493.74 L624.1,494.03 L624.6,494.3 L625.1,494.56 L625.6,494.81 L626.1,495.04 L626.6,495.27 L627.1,495.48 L627.6,495.68 L628.1,495.87 L628.6,496.05 L629.1,496.22 L629.6,496.38 L630.1,496.53 L630.6,496.67 L631.1,496.8 L631.6,496.93 L632.1,497.05 L632.6,497.17 L633.1,497.27 L633.6,497.37 L634.1,497.47 L634.6,497.56 L635.1,497.64 L635.6,497.72 L636.1,497.79 L636.6,497.86 L637.1,497.93 L637.6,497.99 L638.1,498.05 L638.6,498.1 L639.1,498.15 L639.6,498.2 L640.1,498.24 L640.6,498.29 L641.1,498.33 L641.6,498.36 L642.1,498.4 L642.6,498.44 L643.1,498.47 L643.6,498.5 L644.1,498.53 L644.6,498.56 L645.1,498.59 L645.6,498.61 L646.1,498.64 L646.6,498.66 L647.1,498.69 L647.6,498.71 L648.1,498.73 L648.6,498.75 L649.1,498.77 L649.6,498.79 L650.1,498.81 L650.6,498.83 L651.1,498.85 L651.6,498.87 L652.1,498.89 L652.6,498.91" fill="none" stroke="#0000ff" stroke-width="1.3" stroke-linejoin="round" stroke-linecap="round" />
<path d="M385.6,496.1 L386.1,496.12 L386.6,496.14 L387.1,496.16 L387.6,496.18 L388.1,496.2 L388.6,496.21 L389.1,496.23 L389.6,496.25 L390.1,496.27 L390.6,496.29 L391.1,496.31 L391.6,496.33 L392.1,496.35 L392.6,496.37 L393.1,496.38 L393.6,496.4 L394.1,496.42 L394.6,496.44 L395.1,496.46 L395.6,496.48 L396.1,496.5 L396.6,496.52 L397.1,496.53 L397.6,496.55 L398.1,496.57 L398.6,496.59 L399.1,496.61 L399.6,496.63 L400.1,496.64 L400.6,496.66 L401.1,496.68 L401.6,496.7 L402.1,496.72 L402.6,496.74 L403.1,496.75 L403.6,496.77 L404.1,496.79 L404.6,496.81 L405.1,496.83 L405.6,496.84 L406.1,496.86 L406.6,496.88 L407.1,496.9 L407.6,496.92 L408.1,496.93 L408.6,496.95 L409.1,496.97 L409.6,496.99 L410.1,497 L410.6,497.02 L411.1,497.04 L411.6,497.06 L412.1,497.08 L412.6,497.09 L413.1,497.11 L413.6,497.13 L414.1,497.15 L414.6,497.17 L415.1,497.19 L415.6,497.21 L416.1,497.23 L416.6,497.25 L417.1,497.26 L417.6,497.28 L418.1,497.3 L418.6,497.32 L419.1,497.34 L419.6,497.36 L420.1,497.38 L420.6,497.4 L421.1,497.42 L421.6,497.44 L422.1,497.46 L422.6,497.48 L423.1,497.5 L423.6,497.52 L424.1,497.54 L424.6,497.56 L425.1,497.57 L425.6,497.59 L426.1,497.61 L426.6,497.63 L427.1,497.65 L427.6,497.67 L428.1,497.69 L428.6,497.7 L429.1,497.72 L429.6,497.74 L430.1,497.76 L430.6,497.77 L431.1,497.79 L431.6,497.81 L432.1,497.82 L432.6,497.84 L433.1,497.86 L433.6,497.87 L434.1,497.89 L434.6,497.9 L435.1,497.92 L435.6,497.93 L436.1,497.95 L436.6,497.96 L437.1,497.97 L437.6,497.99 L438.1,498 L438.6,498.01 L439.1,498.02 L439.6,498.03 L440.1,498.04 L440.6,498.06 L441.1,498.07 L441.6,498.08 L442.1,498.08 L442.6,498.09 L443.1,498.1 L443.6,498.11 L444.1,498.12 L444.6,498.13 L445.1,498.13 L445.6,498.14 L446.1,498.15 L446.6,498.16 L447.1,498.17 L447.6,498.18 L448.1,498.18 L448.6,498.19 L449.1,498.2 L449.6,498.21 L450.1,498.21 L450.6,498.22 L451.1,498.23 L451.6,498.24 L452.1,498.24 L452.6,498.25 L453.1,498.26 L453.6,498.27 L454.1,498.27 L454.6,498.28 L455.1,498.29 L455.6,498.29 L456.1,498.3 L456.6,498.31 L457.1,498.31 L457.6,498.32 L458.1,498.32 L458.6,498.33 L459.1,498.34 L459.6,498.34 L460.1,498.35 L460.6,498.35 L461.1,498.36 L461.6,498.36 L462.1,498.36 L462.6,498.37 L463.1,498.37 L463.6,498.38 L464.1,498.38 L464.6,498.38 L465.1,498.39 L465.6,498.39 L466.1,498.39 L466.6,498.39 L467.1,498.39 L467.6,498.4 L468.1,498.4 L468.6,498.4 L469.1,498.4 L469.6,498.4 L470.1,498.4 L470.6,498.4 L471.1,498.4 L471.6,498.4 L472.1,498.4 L472.6,498.4 L473.1,498.4 L473.6,498.4 L474.1,498.39 L474.6,498.39 L475.1,498.39 L475.6,498.39 L476.1,498.39 L476.6,498.39 L477.1,498.39 L477.6,498.38 L478.1,498.38 L478.6,498.38 L479.1,498.38 L479.6,498.38 L480.1,498.37 L480.6,498.37 L481.1,498.37 L481.6,498.37 L482.1,498.36 L482.6,498.36 L483.1,498.36 L483.6,498.36 L484.1,498.35 L484.6,498.35 L485.1,498.35 L485.6,498.35 L486.1,498.34 L486.6,498.34 L487.1,498.34 L487.6,498.34 L488.1,498.33 L488.6,498.33 L489.1,498.33 L489.6,498.33 L490.1,498.33 L490.6,498.32 L491.1,498.32 L491.6,498.32 L492.1,498.32 L492.6,498.32 L493.1,498.31 L493.6,498.31 L494.1,498.31 L494.6,498.31 L495.1,498.31 L495.6,498.31 L496.1,498.3 L496.6,498.3 L497.1,498.3 L497.6,498.3 L498.1,498.3 L498.6,498.3 L499.1,498.3 L499.6,498.3 L500.1,498.3 L500.6,498.3 L501.1,498.3 L501.6,498.3 L502.1,498.3 L502.6,498.3 L503.1,498.3 L503.6,498.31 L504.1,498.31 L504.6,498.31 L505.1,498.31 L505.6,498.31 L506.1,498.32 L506.6,498.32 L507.1,498.32 L507.6,498.32 L508.1,498.33 L508.6,498.33 L509.1,498.33 L509.6,498.34 L510.1,498.34 L510.6,498.34 L511.1,498.35 L511.6,498.35 L512.1,498.36 L512.6,498.36 L513.1,498.37 L513.6,498.37 L514.1,498.37 L514.6,498.38 L515.1,498.39 L515.6,498.39 L516.1,498.4 L516.6,498.4 L517.1,498.41 L517.6,498.41 L518.1,498.42 L518.6,498.42 L519.1,498.43 L519.6,498.44 L520.1,498.44 L520.6,498.45 L521.1,498.46 L521.6,498.46 L522.1,498.47 L522.6,498.48 L523.1,498.48 L523.6,498.49 L524.1,498.5 L524.6,498.5 L525.1,498.51 L525.6,498.52 L526.1,498.52 L526.6,498.53 L527.1,498.54 L527.6,498.55 L528.1,498.55 L528.6,498.56 L529.1,498.57 L529.6,498.58 L530.1,498.58 L530.6,498.59 L531.1,498.6 L531.6,498.61 L532.1,498.61 L532.6,498.62 L533.1,498.63 L533.6,498.64 L534.1,498.65 L534.6,498.65 L535.1,498.66 L535.6,498.67 L536.1,498.68 L536.6,498.69 L537.1,498.69 L537.6,498.7 L538.1,498.71 L538.6,498.72 L539.1,498.72 L539.6,498.73 L540.1,498.74 L540.6,498.75 L541.1,498.76 L541.6,498.76 L542.1,498.77 L542.6,498.78 L543.1,498.79 L543.6,498.79 L544.1,498.8 L544.6,498.81 L545.1,498.82 L545.6,498.82 L546.1,498.83 L546.6,498.84 L547.1,498.85 L547.6,498.85 L548.1,498.86 L548.6,498.87 L549.1,498.87 L549.6,498.88 L550.1,498.89 L550.6,498.89 L551.1,498.9 L551.6,498.91 L552.1,498.91 L552.6,498.92 L553.1,498.93 L553.6,498.93 L554.1,498.94 L554.6,498.94 L555.1,498.95 L555.6,498.96 L556.1,498.96 L556.6,498.97 L557.1,498.97 L557.6,498.98 L558.1,498.98 L558.6,498.99 L559.1,498.99 L559.6,499 L560.1,499 L560.6,499.01 L561.1,499.01 L561.6,499.01 L562.1,499.02 L562.6,499.02 L563.1,499.03 L563.6,499.03 L564.1,499.04 L564.6,499.04 L565.1,499.05 L565.6,499.05 L566.1,499.06 L566.6,499.06 L567.1,499.07 L567.6,499.07 L568.1,499.08 L568.6,499.08 L569.1,499.09 L569.6,499.09 L570.1,499.1 L570.6,499.1 L571.1,499.11 L571.6,499.11 L572.1,499.12 L572.6,499.12 L573.1,499.13 L573.6,499.13 L574.1,499.14 L574.6,499.14 L575.1,499.15 L575.6,499.15 L576.1,499.16 L576.6,499.16 L577.1,499.17 L577.6,499.17 L578.1,499.18 L578.6,499.18 L579.1,499.19 L579.6,499.19 L580.1,499.2 L580.6,499.2 L581.1,499.2 L581.6,499.21 L582.1,499.21 L582.6,499.22 L583.1,499.22 L583.6,499.23 L584.1,499.23 L584.6,499.23 L585.1,499.24 L585.6,499.24 L586.1,499.24 L586.6,499.25 L587.1,499.25 L587.6,499.26 L588.1,499.26 L588.6,499.26 L589.1,499.26 L589.6,499.27 L590.1,499.27 L590.6,499.27 L591.1,499.28 L591.6,499.28 L592.1,499.28 L592.6,499.28 L593.1,499.29 L593.6,499.29 L594.1,499.29 L594.6,499.29 L595.1,499.29 L595.6,499.29 L596.1,499.3 L596.6,499.3 L597.1,499.3 L597.6,499.3 L598.1,499.3 L598.6,499.3 L599.1,499.3 L599.6,499.3 L600.1,499.3 L600.6,499.3 L601.1,499.3 L601.6,499.3 L602.1,499.3 L602.6,499.3 L603.1,499.3 L603.6,499.3 L604.1,499.3 L604.6,499.3 L605.1,499.3 L605.6,499.3 L606.1,499.3 L606.6,499.3 L607.1,499.3 L607.6,499.3 L608.1,499.3 L608.6,499.3 L609.1,499.3 L609.6,499.3 L610.1,499.3 L610.6,499.3 L611.1,499.3 L611.6,499.3 L612.1,499.3 L612.6,499.3 L613.1,499.3 L613.6,499.3 L614.1,499.3 L614.6,499.3 L615.1,499.3 L615.6,499.3 L616.1,499.3 L616.6,499.3 L617.1,499.3 L617.6,499.3 L618.1,499.3 L618.6,499.3 L619.1,499.3 L619.6,499.3 L620.1,499.3 L620.6,499.3 L621.1,499.3 L621.6,499.3 L622.1,499.3 L622.6,499.3 L623.1,499.3 L623.6,499.3 L624.1,499.3 L624.6,499.3 L625.1,499.3 L625.6,499.3 L626.1,499.3 L626.6,499.3 L627.1,499.3 L627.6,499.3 L628.1,499.3 L628.6,499.3 L629.1,499.3 L629.6,499.3 L630.1,499.3 L630.6,499.3 L631.1,499.3 L631.6,499.3 L632.1,499.3 L632.6,499.3 L633.1,499.3 L633.6,499.3 L634.1,499.3 L634.6,499.3 L635.1,499.3 L635.6,499.3 L636.1,499.3 L636.6,499.3 L637.1,499.3 L637.6,499.3 L638.1,499.3 L638.6,499.3 L639.1,499.3 L639.6,499.3 L640.1,499.3 L640.6,499.3 L641.1,499.3 L641.6,499.3 L642.1,499.3 L642.6,499.31 L643.1,499.31 L643.6,499.31 L644.1,499.31 L644.6,499.32 L645.1,499.32 L645.6,499.32 L646.1,499.33 L646.6,499.33 L647.1,499.34 L647.6,499.34 L648.1,499.35 L648.6,499.36 L649.1,499.36 L649.6,499.37 L650.1,499.37 L650.6,499.38 L651.1,499.39 L651.6,499.4 L652.1,499.4 L652.6,499.41 L653.1,499.42 L653.6,499.43 L654.1,499.44 L654.6,499.44 L655.1,499.45 L655.6,499.46 L656.1,499.47 L656.6,499.48 L657.1,499.49 L657.6,499.5 L658.1,499.51 L658.6,499.52 L659.1,499.53 L659.6,499.54 L660.1,499.55 L660.6,499.56 L661.1,499.57 L661.6,499.58 L662.1,499.59 L662.6,499.6 L663.1,499.61 L663.6,499.62 L664.1,499.63 L664.6,499.64 L665.1,499.65 L665.6,499.66 L666.1,499.67 L666.6,499.68 L667.1,499.69 L667.6,499.7 L668.1,499.71 L668.6,499.72 L669.1,499.73 L669.6,499.74 L670.1,499.75 L670.6,499.76 L671.1,499.76 L671.6,499.77 L672.1,499.78 L672.6,499.79 L673.1,499.8 L673.6,499.81 L674.1,499.82 L674.6,499.83 L675.1,499.83 L675.6,499.84 L676.1,499.85 L676.6,499.86 L677.1,499.86 L677.6,499.87 L678.1,499.88 L678.6,499.88 L679.1,499.89 L679.6,499.9 L680.1,499.9 L680.6,499.91 L681.1,499.91 L681.6,499.92 L682.1,499.92 L682.6,499.93 L683.1,499.93 L683.6,499.94 L684.1,499.94 L684.6,499.95 L685.1,499.96 L685.6,499.96 L686.1,499.97 L686.6,499.97 L687.1,499.98 L687.6,499.98 L688.1,499.99 L688.6,499.99 L689.1,500 L689.6,500 L690.1,500.01 L690.6,500.01 L691.1,500.02 L691.6,500.02 L692.1,500.03 L692.6,500.03 L693.1,500.04 L693.6,500.04 L694.1,500.05 L694.6,500.05 L695.1,500.06 L695.6,500.06 L696.1,500.06 L696.6,500.07 L697.1,500.07 L697.6,500.08 L698.1,500.08 L698.6,500.09 L699.1,500.09 L699.6,500.1 L700.1,500.1 L700.6,500.1 L701.1,500.11 L701.6,500.11 L702.1,500.12 L702.6,500.12 L703.1,500.12 L703.6,500.13 L704.1,500.13 L704.6,500.14 L705.1,500.14 L705.6,500.14 L706.1,500.15 L706.6,500.15 L707.1,500.16 L707.6,500.16 L708.1,500.16 L708.6,500.17 L709.1,500.17 L709.6,500.17 L710.1,500.18 L710.6,500.18 L711.1,500.18 L711.6,500.19 L712.1,500.19 L712.6,500.19 L713.1,500.2 L713.6,500.2" fill="none" stroke="#ff00ff" stroke-width="1.3" stroke-linejoin="round" stroke-linecap="round" />
</g>
<rect x="385" y="281" width="329.2" height="243.1" fill="none" stroke="#424242" stroke-width="1.3" stroke-linejoin="round"/>
<path d="M385,524.1 V529.4 M426.15,524.1 V529.4 M467.3,524.1 V529.4 M508.45,524.1 V529.4 M549.6,524.1 V529.4 M590.75,524.1 V529.4 M631.9,524.1 V529.4 M673.05,524.1 V529.4 M714.2,524.1 V529.4 M405.57,524.1 V527.2 M446.73,524.1 V527.2 M487.88,524.1 V527.2 M529.03,524.1 V527.2 M570.17,524.1 V527.2 M611.33,524.1 V527.2 M652.48,524.1 V527.2 M693.62,524.1 V527.2 " stroke="#424242" stroke-width="1.3" fill="none"/>
<text x="385" y="540" font-family="Liberation Sans" font-size="10" font-weight="normal" text-anchor="middle" fill="#1a1a1a" >195</text>
<text x="426.15" y="540" font-family="Liberation Sans" font-size="10" font-weight="normal" text-anchor="middle" fill="#1a1a1a" >196</text>
<text x="467.3" y="540" font-family="Liberation Sans" font-size="10" font-weight="normal" text-anchor="middle" fill="#1a1a1a" >197</text>
<text x="508.45" y="540" font-family="Liberation Sans" font-size="10" font-weight="normal" text-anchor="middle" fill="#1a1a1a" >198</text>
<text x="549.6" y="540" font-family="Liberation Sans" font-size="10" font-weight="normal" text-anchor="middle" fill="#1a1a1a" >199</text>
<text x="590.75" y="540" font-family="Liberation Sans" font-size="10" font-weight="normal" text-anchor="middle" fill="#1a1a1a" >200</text>
<text x="631.9" y="540" font-family="Liberation Sans" font-size="10" font-weight="normal" text-anchor="middle" fill="#1a1a1a" >201</text>
<text x="673.05" y="540" font-family="Liberation Sans" font-size="10" font-weight="normal" text-anchor="middle" fill="#1a1a1a" >202</text>
<text x="714.2" y="540" font-family="Liberation Sans" font-size="10" font-weight="normal" text-anchor="middle" fill="#1a1a1a" >203</text>
<text x="549.6" y="551" font-family="Liberation Serif" font-size="12" font-weight="normal" text-anchor="middle" fill="#1a1a1a" >Binding energy (eV)</text>
<text transform="translate(373.7,410.3) rotate(-90)" x="0" y="0" font-family="Liberation Serif" font-size="12" text-anchor="middle" fill="#1a1a1a">Intensity (s.u.)</text>
<text x="393.7" y="306.6" font-family="Liberation Serif" font-size="14" font-weight="bold" text-anchor="start" fill="#1a1a1a" stroke="#1a1a1a" stroke-width="0.3">(d)</text>
<text x="706.6" y="300.9" font-family="Liberation Serif" font-size="14" font-weight="normal" text-anchor="end" fill="#1a1a1a" >Cl 2p</text>
<text transform="translate(504.1,299.3) scale(1,1.07)" x="0" y="0" font-family="Liberation Serif" font-size="11.5" font-weight="normal" text-anchor="middle" fill="#1a1a1a" >198.00</text>
<text transform="translate(572.6,385.8) scale(1,1.07)" x="0" y="0" font-family="Liberation Serif" font-size="11.5" font-weight="normal" text-anchor="middle" fill="#1a1a1a" >199.60</text>
<path d="M507.3,303 V336.7" stroke="#b8505c" stroke-width="1.2" stroke-dasharray="3.2 2.7" fill="none"/>
<path d="M574.2,388.3 V421.7" stroke="#b8505c" stroke-width="1.2" stroke-dasharray="3.2 2.7" fill="none"/>
</svg></body></html>
